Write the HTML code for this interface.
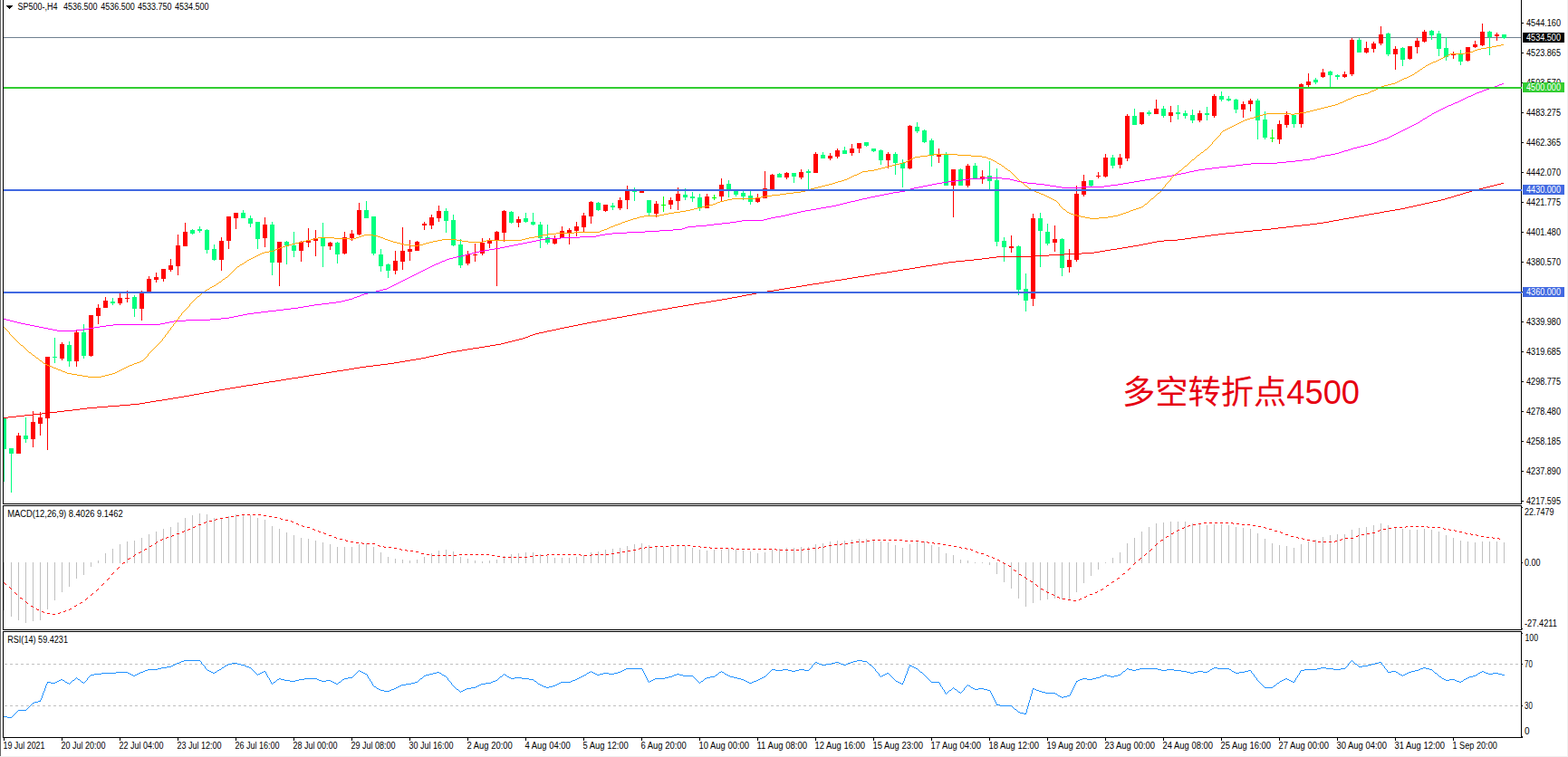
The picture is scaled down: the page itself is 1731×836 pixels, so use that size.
<!DOCTYPE html><html><head><meta charset="utf-8"><title>SP500 H4</title><style>
html,body{margin:0;padding:0;background:#fff;overflow:hidden}
svg{display:block}
text{font-family:"Liberation Sans",sans-serif;font-size:10px;fill:#000}
.c{shape-rendering:crispEdges}
.t{stroke:none}
</style></head><body>
<svg width="1731" height="836" viewBox="0 0 1731 836">
<rect width="1731" height="836" fill="#fff"/>
<g class="c">
<rect x="0" y="0" width="1" height="835" fill="#646464"/>
<rect x="1730" y="0" width="1" height="836" fill="#f0f0f0"/>
<rect x="0" y="835" width="1731" height="1" fill="#f0f0f0"/>
<rect x="4" y="41" width="1675" height="1" fill="#708090"/>
<g fill="#c0c0c0">
<rect x="4" y="621" width="1" height="53"/>
<rect x="12" y="621" width="1" height="60"/>
<rect x="20" y="621" width="1" height="64"/>
<rect x="28" y="621" width="1" height="67"/>
<rect x="36" y="621" width="1" height="65"/>
<rect x="44" y="621" width="1" height="64"/>
<rect x="52" y="621" width="1" height="52"/>
<rect x="60" y="621" width="1" height="42"/>
<rect x="68" y="621" width="1" height="33"/>
<rect x="76" y="621" width="1" height="27"/>
<rect x="84" y="621" width="1" height="18"/>
<rect x="92" y="621" width="1" height="14"/>
<rect x="100" y="621" width="1" height="5"/>
<rect x="108" y="619" width="1" height="3"/>
<rect x="116" y="611" width="1" height="11"/>
<rect x="124" y="606" width="1" height="16"/>
<rect x="132" y="601" width="1" height="21"/>
<rect x="140" y="598" width="1" height="24"/>
<rect x="148" y="597" width="1" height="25"/>
<rect x="156" y="594" width="1" height="28"/>
<rect x="164" y="590" width="1" height="32"/>
<rect x="172" y="587" width="1" height="35"/>
<rect x="180" y="584" width="1" height="38"/>
<rect x="188" y="582" width="1" height="40"/>
<rect x="196" y="577" width="1" height="45"/>
<rect x="204" y="572" width="1" height="50"/>
<rect x="212" y="569" width="1" height="53"/>
<rect x="220" y="567" width="1" height="55"/>
<rect x="228" y="568" width="1" height="54"/>
<rect x="236" y="572" width="1" height="50"/>
<rect x="244" y="572" width="1" height="50"/>
<rect x="252" y="570" width="1" height="52"/>
<rect x="260" y="568" width="1" height="54"/>
<rect x="268" y="568" width="1" height="54"/>
<rect x="276" y="569" width="1" height="53"/>
<rect x="284" y="572" width="1" height="50"/>
<rect x="292" y="574" width="1" height="48"/>
<rect x="300" y="581" width="1" height="41"/>
<rect x="308" y="584" width="1" height="38"/>
<rect x="316" y="588" width="1" height="34"/>
<rect x="324" y="591" width="1" height="31"/>
<rect x="332" y="594" width="1" height="28"/>
<rect x="340" y="595" width="1" height="27"/>
<rect x="348" y="597" width="1" height="25"/>
<rect x="356" y="599" width="1" height="23"/>
<rect x="364" y="601" width="1" height="21"/>
<rect x="372" y="604" width="1" height="18"/>
<rect x="380" y="604" width="1" height="18"/>
<rect x="388" y="604" width="1" height="18"/>
<rect x="396" y="601" width="1" height="21"/>
<rect x="404" y="600" width="1" height="22"/>
<rect x="412" y="604" width="1" height="18"/>
<rect x="420" y="610" width="1" height="12"/>
<rect x="428" y="615" width="1" height="7"/>
<rect x="436" y="617" width="1" height="5"/>
<rect x="444" y="618" width="1" height="4"/>
<rect x="452" y="619" width="1" height="3"/>
<rect x="460" y="618" width="1" height="4"/>
<rect x="468" y="615" width="1" height="7"/>
<rect x="476" y="611" width="1" height="11"/>
<rect x="484" y="608" width="1" height="14"/>
<rect x="492" y="607" width="1" height="15"/>
<rect x="500" y="609" width="1" height="13"/>
<rect x="508" y="615" width="1" height="7"/>
<rect x="516" y="617" width="1" height="5"/>
<rect x="524" y="619" width="1" height="3"/>
<rect x="532" y="620" width="1" height="2"/>
<rect x="540" y="619" width="1" height="3"/>
<rect x="548" y="618" width="1" height="4"/>
<rect x="556" y="614" width="1" height="8"/>
<rect x="564" y="612" width="1" height="10"/>
<rect x="572" y="611" width="1" height="11"/>
<rect x="580" y="610" width="1" height="12"/>
<rect x="588" y="610" width="1" height="12"/>
<rect x="596" y="612" width="1" height="10"/>
<rect x="604" y="614" width="1" height="8"/>
<rect x="612" y="616" width="1" height="6"/>
<rect x="620" y="616" width="1" height="6"/>
<rect x="628" y="616" width="1" height="6"/>
<rect x="636" y="615" width="1" height="7"/>
<rect x="644" y="613" width="1" height="9"/>
<rect x="652" y="610" width="1" height="12"/>
<rect x="660" y="609" width="1" height="13"/>
<rect x="668" y="607" width="1" height="15"/>
<rect x="676" y="606" width="1" height="16"/>
<rect x="684" y="605" width="1" height="17"/>
<rect x="692" y="603" width="1" height="19"/>
<rect x="700" y="601" width="1" height="21"/>
<rect x="708" y="600" width="1" height="22"/>
<rect x="716" y="602" width="1" height="20"/>
<rect x="724" y="603" width="1" height="19"/>
<rect x="732" y="604" width="1" height="18"/>
<rect x="740" y="604" width="1" height="18"/>
<rect x="748" y="603" width="1" height="19"/>
<rect x="756" y="603" width="1" height="19"/>
<rect x="764" y="605" width="1" height="17"/>
<rect x="772" y="607" width="1" height="15"/>
<rect x="780" y="608" width="1" height="14"/>
<rect x="788" y="607" width="1" height="15"/>
<rect x="796" y="607" width="1" height="15"/>
<rect x="804" y="606" width="1" height="16"/>
<rect x="812" y="607" width="1" height="15"/>
<rect x="820" y="608" width="1" height="14"/>
<rect x="828" y="609" width="1" height="13"/>
<rect x="836" y="611" width="1" height="11"/>
<rect x="844" y="610" width="1" height="12"/>
<rect x="852" y="607" width="1" height="15"/>
<rect x="860" y="606" width="1" height="16"/>
<rect x="868" y="605" width="1" height="17"/>
<rect x="876" y="605" width="1" height="17"/>
<rect x="884" y="604" width="1" height="18"/>
<rect x="892" y="604" width="1" height="18"/>
<rect x="900" y="601" width="1" height="21"/>
<rect x="908" y="600" width="1" height="22"/>
<rect x="916" y="598" width="1" height="24"/>
<rect x="924" y="597" width="1" height="25"/>
<rect x="932" y="597" width="1" height="25"/>
<rect x="940" y="596" width="1" height="26"/>
<rect x="948" y="595" width="1" height="27"/>
<rect x="956" y="595" width="1" height="27"/>
<rect x="964" y="596" width="1" height="26"/>
<rect x="972" y="598" width="1" height="24"/>
<rect x="980" y="599" width="1" height="23"/>
<rect x="988" y="602" width="1" height="20"/>
<rect x="996" y="605" width="1" height="17"/>
<rect x="1004" y="601" width="1" height="21"/>
<rect x="1012" y="598" width="1" height="24"/>
<rect x="1020" y="598" width="1" height="24"/>
<rect x="1028" y="602" width="1" height="20"/>
<rect x="1036" y="604" width="1" height="18"/>
<rect x="1044" y="611" width="1" height="11"/>
<rect x="1052" y="613" width="1" height="9"/>
<rect x="1060" y="618" width="1" height="4"/>
<rect x="1068" y="619" width="1" height="3"/>
<rect x="1076" y="621" width="1" height="1"/>
<rect x="1084" y="621" width="1" height="1"/>
<rect x="1092" y="621" width="1" height="3"/>
<rect x="1100" y="621" width="1" height="13"/>
<rect x="1108" y="621" width="1" height="22"/>
<rect x="1116" y="621" width="1" height="29"/>
<rect x="1124" y="621" width="1" height="40"/>
<rect x="1132" y="621" width="1" height="49"/>
<rect x="1140" y="621" width="1" height="45"/>
<rect x="1148" y="621" width="1" height="42"/>
<rect x="1156" y="621" width="1" height="41"/>
<rect x="1164" y="621" width="1" height="40"/>
<rect x="1172" y="621" width="1" height="41"/>
<rect x="1180" y="621" width="1" height="41"/>
<rect x="1188" y="621" width="1" height="33"/>
<rect x="1196" y="621" width="1" height="23"/>
<rect x="1204" y="621" width="1" height="15"/>
<rect x="1212" y="621" width="1" height="8"/>
<rect x="1220" y="621" width="1" height="1"/>
<rect x="1228" y="616" width="1" height="6"/>
<rect x="1236" y="610" width="1" height="12"/>
<rect x="1244" y="600" width="1" height="22"/>
<rect x="1252" y="594" width="1" height="28"/>
<rect x="1260" y="587" width="1" height="35"/>
<rect x="1268" y="582" width="1" height="40"/>
<rect x="1276" y="578" width="1" height="44"/>
<rect x="1284" y="577" width="1" height="45"/>
<rect x="1292" y="576" width="1" height="46"/>
<rect x="1300" y="576" width="1" height="46"/>
<rect x="1308" y="576" width="1" height="46"/>
<rect x="1316" y="578" width="1" height="44"/>
<rect x="1324" y="579" width="1" height="43"/>
<rect x="1332" y="580" width="1" height="42"/>
<rect x="1340" y="579" width="1" height="43"/>
<rect x="1348" y="579" width="1" height="43"/>
<rect x="1356" y="580" width="1" height="42"/>
<rect x="1364" y="582" width="1" height="40"/>
<rect x="1372" y="583" width="1" height="39"/>
<rect x="1380" y="584" width="1" height="38"/>
<rect x="1388" y="589" width="1" height="33"/>
<rect x="1396" y="595" width="1" height="27"/>
<rect x="1404" y="600" width="1" height="22"/>
<rect x="1412" y="602" width="1" height="20"/>
<rect x="1420" y="603" width="1" height="19"/>
<rect x="1428" y="605" width="1" height="17"/>
<rect x="1436" y="601" width="1" height="21"/>
<rect x="1444" y="598" width="1" height="24"/>
<rect x="1452" y="596" width="1" height="26"/>
<rect x="1460" y="593" width="1" height="29"/>
<rect x="1468" y="591" width="1" height="31"/>
<rect x="1476" y="590" width="1" height="32"/>
<rect x="1484" y="590" width="1" height="32"/>
<rect x="1492" y="585" width="1" height="37"/>
<rect x="1500" y="583" width="1" height="39"/>
<rect x="1508" y="582" width="1" height="40"/>
<rect x="1516" y="580" width="1" height="42"/>
<rect x="1524" y="578" width="1" height="44"/>
<rect x="1532" y="580" width="1" height="42"/>
<rect x="1540" y="582" width="1" height="40"/>
<rect x="1548" y="584" width="1" height="38"/>
<rect x="1556" y="585" width="1" height="37"/>
<rect x="1564" y="585" width="1" height="37"/>
<rect x="1572" y="584" width="1" height="38"/>
<rect x="1580" y="585" width="1" height="37"/>
<rect x="1588" y="587" width="1" height="35"/>
<rect x="1596" y="591" width="1" height="31"/>
<rect x="1604" y="594" width="1" height="28"/>
<rect x="1612" y="597" width="1" height="25"/>
<rect x="1620" y="598" width="1" height="24"/>
<rect x="1628" y="599" width="1" height="23"/>
<rect x="1636" y="598" width="1" height="24"/>
<rect x="1644" y="598" width="1" height="24"/>
<rect x="1652" y="598" width="1" height="24"/>
<rect x="1660" y="599" width="1" height="23"/>
</g>
<g stroke="#c0c0c0" stroke-width="1" stroke-dasharray="3 3"><line x1="5" y1="733.5" x2="1679" y2="733.5"/><line x1="5" y1="779.5" x2="1679" y2="779.5"/></g>
<g fill="#ff0000">
<rect x="20" y="478" width="1" height="23"/>
<rect x="18" y="481" width="5" height="20"/>
<rect x="36" y="454" width="1" height="40"/>
<rect x="34" y="466" width="5" height="19"/>
<rect x="44" y="455" width="1" height="26"/>
<rect x="42" y="461" width="5" height="7"/>
<rect x="52" y="394" width="1" height="103"/>
<rect x="50" y="394" width="5" height="68"/>
<rect x="68" y="378" width="1" height="20"/>
<rect x="66" y="380" width="5" height="16"/>
<rect x="84" y="365" width="1" height="40"/>
<rect x="82" y="367" width="5" height="32"/>
<rect x="100" y="348" width="1" height="46"/>
<rect x="98" y="348" width="5" height="45"/>
<rect x="108" y="336" width="1" height="22"/>
<rect x="106" y="340" width="5" height="9"/>
<rect x="116" y="328" width="1" height="12"/>
<rect x="114" y="332" width="5" height="8"/>
<rect x="132" y="324" width="1" height="13"/>
<rect x="130" y="329" width="5" height="6"/>
<rect x="140" y="321" width="1" height="13"/>
<rect x="138" y="329" width="5" height="1"/>
<rect x="156" y="321" width="1" height="33"/>
<rect x="154" y="324" width="5" height="17"/>
<rect x="164" y="305" width="1" height="18"/>
<rect x="162" y="308" width="5" height="15"/>
<rect x="172" y="301" width="1" height="11"/>
<rect x="170" y="306" width="5" height="3"/>
<rect x="180" y="297" width="1" height="14"/>
<rect x="178" y="297" width="5" height="11"/>
<rect x="188" y="286" width="1" height="14"/>
<rect x="186" y="293" width="5" height="5"/>
<rect x="196" y="259" width="1" height="45"/>
<rect x="194" y="271" width="5" height="23"/>
<rect x="204" y="246" width="1" height="26"/>
<rect x="202" y="256" width="5" height="16"/>
<rect x="244" y="262" width="1" height="37"/>
<rect x="242" y="266" width="5" height="21"/>
<rect x="252" y="239" width="1" height="36"/>
<rect x="250" y="239" width="5" height="27"/>
<rect x="260" y="235" width="1" height="18"/>
<rect x="258" y="235" width="5" height="6"/>
<rect x="292" y="240" width="1" height="33"/>
<rect x="290" y="248" width="5" height="15"/>
<rect x="308" y="267" width="1" height="49"/>
<rect x="306" y="267" width="5" height="23"/>
<rect x="332" y="266" width="1" height="23"/>
<rect x="330" y="267" width="5" height="10"/>
<rect x="340" y="252" width="1" height="21"/>
<rect x="338" y="265" width="5" height="3"/>
<rect x="348" y="254" width="1" height="29"/>
<rect x="346" y="263" width="5" height="3"/>
<rect x="364" y="267" width="1" height="9"/>
<rect x="362" y="268" width="5" height="4"/>
<rect x="380" y="256" width="1" height="25"/>
<rect x="378" y="262" width="5" height="18"/>
<rect x="388" y="254" width="1" height="12"/>
<rect x="386" y="258" width="5" height="5"/>
<rect x="396" y="224" width="1" height="36"/>
<rect x="394" y="232" width="5" height="27"/>
<rect x="436" y="277" width="1" height="26"/>
<rect x="434" y="288" width="5" height="11"/>
<rect x="444" y="251" width="1" height="47"/>
<rect x="442" y="277" width="5" height="12"/>
<rect x="452" y="265" width="1" height="23"/>
<rect x="450" y="275" width="5" height="3"/>
<rect x="460" y="266" width="1" height="11"/>
<rect x="458" y="267" width="5" height="10"/>
<rect x="468" y="245" width="1" height="9"/>
<rect x="466" y="247" width="5" height="2"/>
<rect x="476" y="237" width="1" height="16"/>
<rect x="474" y="240" width="5" height="9"/>
<rect x="484" y="227" width="1" height="18"/>
<rect x="482" y="233" width="5" height="8"/>
<rect x="516" y="277" width="1" height="16"/>
<rect x="514" y="281" width="5" height="10"/>
<rect x="524" y="269" width="1" height="20"/>
<rect x="522" y="281" width="5" height="1"/>
<rect x="532" y="263" width="1" height="19"/>
<rect x="530" y="268" width="5" height="12"/>
<rect x="540" y="263" width="1" height="11"/>
<rect x="538" y="265" width="5" height="4"/>
<rect x="548" y="255" width="1" height="61"/>
<rect x="546" y="256" width="5" height="10"/>
<rect x="556" y="232" width="1" height="35"/>
<rect x="554" y="233" width="5" height="24"/>
<rect x="572" y="239" width="1" height="12"/>
<rect x="570" y="242" width="5" height="4"/>
<rect x="612" y="260" width="1" height="10"/>
<rect x="610" y="263" width="5" height="6"/>
<rect x="620" y="250" width="1" height="13"/>
<rect x="618" y="255" width="5" height="8"/>
<rect x="628" y="252" width="1" height="18"/>
<rect x="626" y="254" width="5" height="3"/>
<rect x="636" y="245" width="1" height="16"/>
<rect x="634" y="250" width="5" height="5"/>
<rect x="644" y="235" width="1" height="22"/>
<rect x="642" y="238" width="5" height="13"/>
<rect x="652" y="222" width="1" height="25"/>
<rect x="650" y="223" width="5" height="16"/>
<rect x="668" y="226" width="1" height="8"/>
<rect x="666" y="226" width="5" height="7"/>
<rect x="684" y="218" width="1" height="14"/>
<rect x="682" y="221" width="5" height="9"/>
<rect x="692" y="205" width="1" height="26"/>
<rect x="690" y="211" width="5" height="10"/>
<rect x="708" y="210" width="1" height="3"/>
<rect x="706" y="211" width="5" height="2"/>
<rect x="724" y="222" width="1" height="18"/>
<rect x="722" y="225" width="5" height="11"/>
<rect x="740" y="218" width="1" height="13"/>
<rect x="738" y="221" width="5" height="5"/>
<rect x="748" y="207" width="1" height="25"/>
<rect x="746" y="214" width="5" height="8"/>
<rect x="780" y="214" width="1" height="16"/>
<rect x="778" y="217" width="5" height="13"/>
<rect x="796" y="197" width="1" height="25"/>
<rect x="794" y="204" width="5" height="13"/>
<rect x="836" y="214" width="1" height="10"/>
<rect x="834" y="218" width="5" height="5"/>
<rect x="844" y="189" width="1" height="30"/>
<rect x="842" y="208" width="5" height="11"/>
<rect x="852" y="192" width="1" height="17"/>
<rect x="850" y="193" width="5" height="16"/>
<rect x="868" y="190" width="1" height="8"/>
<rect x="866" y="191" width="5" height="5"/>
<rect x="884" y="187" width="1" height="11"/>
<rect x="882" y="190" width="5" height="6"/>
<rect x="900" y="168" width="1" height="23"/>
<rect x="898" y="170" width="5" height="21"/>
<rect x="916" y="169" width="1" height="8"/>
<rect x="914" y="172" width="5" height="3"/>
<rect x="924" y="164" width="1" height="11"/>
<rect x="922" y="166" width="5" height="7"/>
<rect x="940" y="159" width="1" height="13"/>
<rect x="938" y="164" width="5" height="5"/>
<rect x="948" y="158" width="1" height="11"/>
<rect x="946" y="158" width="5" height="6"/>
<rect x="980" y="168" width="1" height="18"/>
<rect x="978" y="170" width="5" height="7"/>
<rect x="1004" y="138" width="1" height="49"/>
<rect x="1002" y="139" width="5" height="47"/>
<rect x="1036" y="164" width="1" height="16"/>
<rect x="1034" y="170" width="5" height="3"/>
<rect x="1052" y="187" width="1" height="53"/>
<rect x="1050" y="187" width="5" height="18"/>
<rect x="1068" y="181" width="1" height="26"/>
<rect x="1066" y="183" width="5" height="22"/>
<rect x="1084" y="188" width="1" height="15"/>
<rect x="1082" y="195" width="5" height="3"/>
<rect x="1116" y="260" width="1" height="19"/>
<rect x="1114" y="272" width="5" height="2"/>
<rect x="1140" y="236" width="1" height="102"/>
<rect x="1138" y="241" width="5" height="89"/>
<rect x="1164" y="249" width="1" height="29"/>
<rect x="1162" y="264" width="5" height="4"/>
<rect x="1180" y="275" width="1" height="26"/>
<rect x="1178" y="287" width="5" height="8"/>
<rect x="1188" y="205" width="1" height="84"/>
<rect x="1186" y="214" width="5" height="73"/>
<rect x="1196" y="193" width="1" height="24"/>
<rect x="1194" y="200" width="5" height="15"/>
<rect x="1212" y="190" width="1" height="7"/>
<rect x="1210" y="194" width="5" height="1"/>
<rect x="1220" y="170" width="1" height="26"/>
<rect x="1218" y="174" width="5" height="21"/>
<rect x="1236" y="170" width="1" height="16"/>
<rect x="1234" y="174" width="5" height="8"/>
<rect x="1244" y="126" width="1" height="52"/>
<rect x="1242" y="128" width="5" height="47"/>
<rect x="1260" y="124" width="1" height="14"/>
<rect x="1258" y="124" width="5" height="13"/>
<rect x="1276" y="110" width="1" height="16"/>
<rect x="1274" y="120" width="5" height="6"/>
<rect x="1292" y="117" width="1" height="18"/>
<rect x="1290" y="124" width="5" height="4"/>
<rect x="1324" y="122" width="1" height="13"/>
<rect x="1322" y="125" width="5" height="8"/>
<rect x="1340" y="104" width="1" height="26"/>
<rect x="1338" y="106" width="5" height="22"/>
<rect x="1372" y="112" width="1" height="18"/>
<rect x="1370" y="115" width="5" height="6"/>
<rect x="1380" y="109" width="1" height="14"/>
<rect x="1378" y="111" width="5" height="4"/>
<rect x="1412" y="133" width="1" height="26"/>
<rect x="1410" y="137" width="5" height="17"/>
<rect x="1420" y="123" width="1" height="18"/>
<rect x="1418" y="127" width="5" height="11"/>
<rect x="1436" y="92" width="1" height="49"/>
<rect x="1434" y="93" width="5" height="44"/>
<rect x="1444" y="81" width="1" height="15"/>
<rect x="1442" y="90" width="5" height="4"/>
<rect x="1460" y="76" width="1" height="10"/>
<rect x="1458" y="80" width="5" height="5"/>
<rect x="1484" y="79" width="1" height="7"/>
<rect x="1482" y="82" width="5" height="3"/>
<rect x="1492" y="42" width="1" height="42"/>
<rect x="1490" y="44" width="5" height="38"/>
<rect x="1508" y="46" width="1" height="13"/>
<rect x="1506" y="53" width="5" height="5"/>
<rect x="1516" y="46" width="1" height="12"/>
<rect x="1514" y="48" width="5" height="6"/>
<rect x="1524" y="29" width="1" height="21"/>
<rect x="1522" y="38" width="5" height="10"/>
<rect x="1540" y="51" width="1" height="26"/>
<rect x="1538" y="54" width="5" height="6"/>
<rect x="1556" y="51" width="1" height="15"/>
<rect x="1554" y="51" width="5" height="14"/>
<rect x="1564" y="42" width="1" height="17"/>
<rect x="1562" y="45" width="5" height="7"/>
<rect x="1572" y="33" width="1" height="14"/>
<rect x="1570" y="35" width="5" height="11"/>
<rect x="1604" y="57" width="1" height="8"/>
<rect x="1602" y="59" width="5" height="2"/>
<rect x="1620" y="52" width="1" height="16"/>
<rect x="1618" y="52" width="5" height="15"/>
<rect x="1628" y="45" width="1" height="8"/>
<rect x="1626" y="49" width="5" height="3"/>
<rect x="1636" y="26" width="1" height="25"/>
<rect x="1634" y="35" width="5" height="15"/>
<rect x="1652" y="36" width="1" height="9"/>
<rect x="1650" y="38" width="5" height="2"/>
</g>
<g fill="#00ff7f">
<rect x="4" y="461" width="1" height="71"/>
<rect x="4" y="461" width="3" height="35"/>
<rect x="12" y="495" width="1" height="49"/>
<rect x="10" y="495" width="5" height="6"/>
<rect x="28" y="461" width="1" height="28"/>
<rect x="26" y="481" width="5" height="4"/>
<rect x="60" y="373" width="1" height="28"/>
<rect x="58" y="394" width="5" height="1"/>
<rect x="76" y="377" width="1" height="28"/>
<rect x="74" y="381" width="5" height="18"/>
<rect x="92" y="358" width="1" height="38"/>
<rect x="90" y="367" width="5" height="26"/>
<rect x="124" y="329" width="1" height="8"/>
<rect x="122" y="333" width="5" height="2"/>
<rect x="148" y="326" width="1" height="24"/>
<rect x="146" y="328" width="5" height="13"/>
<rect x="212" y="253" width="1" height="6"/>
<rect x="210" y="254" width="5" height="4"/>
<rect x="220" y="250" width="1" height="7"/>
<rect x="218" y="253" width="5" height="2"/>
<rect x="228" y="253" width="1" height="27"/>
<rect x="226" y="254" width="5" height="22"/>
<rect x="236" y="270" width="1" height="18"/>
<rect x="234" y="275" width="5" height="12"/>
<rect x="268" y="232" width="1" height="9"/>
<rect x="266" y="235" width="5" height="6"/>
<rect x="276" y="238" width="1" height="13"/>
<rect x="274" y="241" width="5" height="6"/>
<rect x="284" y="245" width="1" height="30"/>
<rect x="282" y="245" width="5" height="19"/>
<rect x="300" y="245" width="1" height="59"/>
<rect x="298" y="248" width="5" height="42"/>
<rect x="316" y="266" width="1" height="26"/>
<rect x="314" y="267" width="5" height="4"/>
<rect x="324" y="256" width="1" height="28"/>
<rect x="322" y="271" width="5" height="6"/>
<rect x="356" y="246" width="1" height="49"/>
<rect x="354" y="263" width="5" height="9"/>
<rect x="372" y="267" width="1" height="24"/>
<rect x="370" y="268" width="5" height="13"/>
<rect x="404" y="222" width="1" height="19"/>
<rect x="402" y="232" width="5" height="9"/>
<rect x="412" y="239" width="1" height="43"/>
<rect x="410" y="239" width="5" height="41"/>
<rect x="420" y="275" width="1" height="25"/>
<rect x="418" y="281" width="5" height="13"/>
<rect x="428" y="291" width="1" height="16"/>
<rect x="426" y="292" width="5" height="7"/>
<rect x="492" y="230" width="1" height="27"/>
<rect x="490" y="233" width="5" height="11"/>
<rect x="500" y="237" width="1" height="35"/>
<rect x="498" y="243" width="5" height="28"/>
<rect x="508" y="264" width="1" height="32"/>
<rect x="506" y="270" width="5" height="23"/>
<rect x="564" y="233" width="1" height="14"/>
<rect x="562" y="234" width="5" height="12"/>
<rect x="580" y="235" width="1" height="11"/>
<rect x="578" y="241" width="5" height="4"/>
<rect x="588" y="235" width="1" height="14"/>
<rect x="586" y="245" width="5" height="3"/>
<rect x="596" y="245" width="1" height="29"/>
<rect x="594" y="248" width="5" height="15"/>
<rect x="604" y="248" width="1" height="22"/>
<rect x="602" y="262" width="5" height="6"/>
<rect x="660" y="223" width="1" height="10"/>
<rect x="658" y="224" width="5" height="8"/>
<rect x="676" y="224" width="1" height="8"/>
<rect x="674" y="227" width="5" height="2"/>
<rect x="700" y="207" width="1" height="15"/>
<rect x="698" y="210" width="5" height="2"/>
<rect x="716" y="221" width="1" height="17"/>
<rect x="714" y="221" width="5" height="14"/>
<rect x="756" y="208" width="1" height="13"/>
<rect x="754" y="215" width="5" height="3"/>
<rect x="764" y="212" width="1" height="11"/>
<rect x="762" y="217" width="5" height="2"/>
<rect x="772" y="214" width="1" height="19"/>
<rect x="770" y="218" width="5" height="11"/>
<rect x="804" y="199" width="1" height="19"/>
<rect x="802" y="203" width="5" height="6"/>
<rect x="812" y="210" width="1" height="7"/>
<rect x="810" y="211" width="5" height="4"/>
<rect x="820" y="211" width="1" height="10"/>
<rect x="818" y="213" width="5" height="4"/>
<rect x="828" y="211" width="1" height="15"/>
<rect x="826" y="216" width="5" height="7"/>
<rect x="860" y="191" width="1" height="5"/>
<rect x="858" y="192" width="5" height="4"/>
<rect x="876" y="191" width="1" height="11"/>
<rect x="874" y="191" width="5" height="4"/>
<rect x="892" y="187" width="1" height="22"/>
<rect x="890" y="189" width="5" height="2"/>
<rect x="908" y="168" width="1" height="7"/>
<rect x="906" y="171" width="5" height="4"/>
<rect x="932" y="162" width="1" height="8"/>
<rect x="930" y="166" width="5" height="4"/>
<rect x="956" y="157" width="1" height="5"/>
<rect x="954" y="157" width="5" height="4"/>
<rect x="964" y="164" width="1" height="4"/>
<rect x="962" y="164" width="5" height="3"/>
<rect x="972" y="165" width="1" height="17"/>
<rect x="970" y="166" width="5" height="11"/>
<rect x="988" y="168" width="1" height="25"/>
<rect x="986" y="170" width="5" height="10"/>
<rect x="996" y="176" width="1" height="31"/>
<rect x="994" y="180" width="5" height="6"/>
<rect x="1012" y="135" width="1" height="12"/>
<rect x="1010" y="140" width="5" height="5"/>
<rect x="1020" y="143" width="1" height="15"/>
<rect x="1018" y="144" width="5" height="13"/>
<rect x="1028" y="153" width="1" height="31"/>
<rect x="1026" y="155" width="5" height="17"/>
<rect x="1044" y="168" width="1" height="37"/>
<rect x="1042" y="170" width="5" height="35"/>
<rect x="1060" y="186" width="1" height="19"/>
<rect x="1058" y="187" width="5" height="18"/>
<rect x="1076" y="180" width="1" height="17"/>
<rect x="1074" y="183" width="5" height="14"/>
<rect x="1092" y="178" width="1" height="31"/>
<rect x="1090" y="194" width="5" height="6"/>
<rect x="1100" y="186" width="1" height="86"/>
<rect x="1098" y="199" width="5" height="68"/>
<rect x="1108" y="262" width="1" height="27"/>
<rect x="1106" y="266" width="5" height="7"/>
<rect x="1124" y="271" width="1" height="55"/>
<rect x="1122" y="272" width="5" height="48"/>
<rect x="1132" y="302" width="1" height="42"/>
<rect x="1130" y="319" width="5" height="13"/>
<rect x="1148" y="235" width="1" height="60"/>
<rect x="1146" y="241" width="5" height="14"/>
<rect x="1156" y="247" width="1" height="24"/>
<rect x="1154" y="256" width="5" height="13"/>
<rect x="1172" y="263" width="1" height="42"/>
<rect x="1170" y="264" width="5" height="32"/>
<rect x="1204" y="199" width="1" height="7"/>
<rect x="1202" y="199" width="5" height="6"/>
<rect x="1228" y="171" width="1" height="15"/>
<rect x="1226" y="174" width="5" height="9"/>
<rect x="1252" y="120" width="1" height="18"/>
<rect x="1250" y="128" width="5" height="10"/>
<rect x="1268" y="122" width="1" height="6"/>
<rect x="1266" y="124" width="5" height="2"/>
<rect x="1284" y="117" width="1" height="13"/>
<rect x="1282" y="120" width="5" height="8"/>
<rect x="1300" y="116" width="1" height="16"/>
<rect x="1298" y="124" width="5" height="2"/>
<rect x="1308" y="122" width="1" height="9"/>
<rect x="1306" y="125" width="5" height="3"/>
<rect x="1316" y="121" width="1" height="15"/>
<rect x="1314" y="127" width="5" height="6"/>
<rect x="1332" y="118" width="1" height="15"/>
<rect x="1330" y="125" width="5" height="2"/>
<rect x="1348" y="101" width="1" height="11"/>
<rect x="1346" y="106" width="5" height="4"/>
<rect x="1356" y="106" width="1" height="6"/>
<rect x="1354" y="109" width="5" height="2"/>
<rect x="1364" y="109" width="1" height="16"/>
<rect x="1362" y="110" width="5" height="11"/>
<rect x="1388" y="109" width="1" height="45"/>
<rect x="1386" y="111" width="5" height="22"/>
<rect x="1396" y="123" width="1" height="31"/>
<rect x="1394" y="132" width="5" height="20"/>
<rect x="1428" y="126" width="1" height="15"/>
<rect x="1426" y="127" width="5" height="10"/>
<rect x="1452" y="86" width="1" height="7"/>
<rect x="1450" y="88" width="5" height="3"/>
<rect x="1468" y="78" width="1" height="18"/>
<rect x="1466" y="79" width="5" height="4"/>
<rect x="1476" y="82" width="1" height="6"/>
<rect x="1474" y="83" width="5" height="2"/>
<rect x="1500" y="42" width="1" height="16"/>
<rect x="1498" y="44" width="5" height="14"/>
<rect x="1532" y="36" width="1" height="26"/>
<rect x="1530" y="37" width="5" height="23"/>
<rect x="1548" y="52" width="1" height="21"/>
<rect x="1546" y="53" width="5" height="13"/>
<rect x="1580" y="33" width="1" height="11"/>
<rect x="1578" y="34" width="5" height="5"/>
<rect x="1588" y="34" width="1" height="28"/>
<rect x="1586" y="37" width="5" height="17"/>
<rect x="1596" y="41" width="1" height="26"/>
<rect x="1594" y="53" width="5" height="10"/>
<rect x="1612" y="55" width="1" height="17"/>
<rect x="1610" y="60" width="5" height="8"/>
<rect x="1644" y="34" width="1" height="27"/>
<rect x="1642" y="35" width="5" height="6"/>
<rect x="1660" y="38" width="1" height="5"/>
<rect x="1658" y="38" width="5" height="4"/>
</g>
<g fill="#00ff00">
<rect x="732" y="217" width="1" height="17"/>
<rect x="730" y="226" width="5" height="1"/>
<rect x="788" y="215" width="1" height="6"/>
<rect x="786" y="218" width="5" height="1"/>
<rect x="1404" y="143" width="1" height="14"/>
<rect x="1402" y="152" width="5" height="1"/>
</g>
</g>
<path class="c" fill="#ff0000" d="M88 451h8v1h-8zM879 316h6v1h-6zM1065 287h10v1h-10zM119 448h13v1h-13zM310 419h6v1h-6zM985 299h6v1h-6zM916 310h6v1h-6zM1143 282h15v1h-15zM1517 235h6v1h-6zM1257 270h5v1h-5zM516 385h6v1h-6zM910 311h6v1h-6zM1363 256h10v1h-10zM653 355h6v1h-6zM803 329h5v1h-5zM225 433h6v1h-6zM1092 284h8v1h-8zM329 416h6v1h-6zM972 301h7v1h-7zM1322 261h8v1h-8zM1437 248h9v1h-9zM547 380h6v1h-6zM404 404h8v1h-8zM681 350h6v1h-6zM1010 295h6v1h-6zM791 331h6v1h-6zM1084 285h8v1h-8zM1315 262h7v1h-7zM824 325h6v1h-6zM1004 296h6v1h-6zM1534 232h6v1h-6zM573 374h4v1h-4zM1272 267h5v1h-5zM428 401h7v1h-7zM203 437h6v1h-6zM1158 281h17v1h-17zM670 352h5v1h-5zM1337 259h8v1h-8zM1560 227h4v1h-4zM412 403h8v1h-8zM347 413h7v1h-7zM1595 219h3v1h-3zM561 377h4v1h-4zM46 456h9v1h-9zM698 347h5v1h-5zM841 322h6v1h-6zM335 415h6v1h-6zM947 305h7v1h-7zM37 457h9v1h-9zM1582 222h5v1h-5zM1649 204h4v1h-4zM720 343h5v1h-5zM144 446h10v1h-10zM1047 289h8v1h-8zM254 428h6v1h-6zM1277 266h8v1h-8zM1393 253h10v1h-10zM354 412h6v1h-6zM1041 290h6v1h-6zM1194 279h14v1h-14zM1569 225h4v1h-4zM242 430h6v1h-6zM854 320h6v1h-6zM279 424h6v1h-6zM493 389h5v1h-5zM954 304h6v1h-6zM453 397h6v1h-6zM737 340h5v1h-5zM1454 246h7v1h-7zM160 444h6v1h-6zM772 334h7v1h-7zM1446 247h8v1h-8zM372 409h7v1h-7zM366 410h6v1h-6zM1100 283h43v1h-43zM1472 243h6v1h-6zM866 318h6v1h-6zM96 450h11v1h-11zM1645 205h4v1h-4zM748 338h6v1h-6zM1353 257h10v1h-10zM1467 244h5v1h-5zM63 454h8v1h-8zM172 442h7v1h-7zM1500 238h6v1h-6zM891 314h6v1h-6zM1633 208h4v1h-4zM18 459h9v1h-9zM385 407h6v1h-6zM628 360h5v1h-5zM1300 264h8v1h-8zM595 367h5v1h-5zM1489 240h6v1h-6zM1653 203h4v1h-4zM71 453h9v1h-9zM1220 276h6v1h-6zM760 336h6v1h-6zM904 312h6v1h-6zM1506 237h5v1h-5zM1540 231h6v1h-6zM504 387h6v1h-6zM1239 273h6v1h-6zM643 357h5v1h-5zM209 436h5v1h-5zM1605 216h3v1h-3zM132 447h12v1h-12zM316 418h6v1h-6zM1308 263h7v1h-7zM1420 250h8v1h-8zM1226 275h7v1h-7zM997 297h7v1h-7zM529 383h6v1h-6zM304 420h6v1h-6zM991 298h6v1h-6zM692 348h6v1h-6zM553 379h4v1h-4zM1555 228h5v1h-5zM191 439h6v1h-6zM797 330h6v1h-6zM585 370h3v1h-3zM397 405h7v1h-7zM580 372h3v1h-3zM1245 272h6v1h-6zM214 435h6v1h-6zM1075 286h9v1h-9zM248 429h6v1h-6zM541 381h6v1h-6zM1428 249h9v1h-9zM569 375h4v1h-4zM535 382h6v1h-6zM1383 254h10v1h-10zM814 327h5v1h-5zM1175 280h19v1h-19zM341 414h6v1h-6zM557 378h4v1h-4zM1029 292h6v1h-6zM941 306h6v1h-6zM27 458h10v1h-10zM1546 230h5v1h-5zM860 319h6v1h-6zM714 344h6v1h-6zM1035 291h6v1h-6zM360 411h6v1h-6zM1267 268h5v1h-5zM847 321h7v1h-7zM709 345h5v1h-5zM742 339h6v1h-6zM4 461h5v1h-5zM266 426h6v1h-6zM588 369h3v1h-3zM107 449h12v1h-12zM979 300h6v1h-6zM1214 277h6v1h-6zM179 441h6v1h-6zM1641 206h4v1h-4zM55 455h8v1h-8zM470 394h4v1h-4zM885 315h6v1h-6zM960 303h6v1h-6zM489 390h4v1h-4zM1629 209h4v1h-4zM731 341h6v1h-6zM1285 265h15v1h-15zM197 438h6v1h-6zM872 317h7v1h-7zM1478 242h5v1h-5zM1618 212h4v1h-4zM1511 236h6v1h-6zM1251 271h6v1h-6zM291 422h6v1h-6zM785 332h6v1h-6zM1528 233h6v1h-6zM664 353h6v1h-6zM80 452h8v1h-8zM591 368h4v1h-4zM185 440h6v1h-6zM220 434h5v1h-5zM1608 215h4v1h-4zM322 417h7v1h-7zM929 308h6v1h-6zM420 402h8v1h-8zM1564 226h5v1h-5zM237 431h5v1h-5zM1591 220h4v1h-4zM1022 293h7v1h-7zM231 432h6v1h-6zM1330 260h7v1h-7zM835 323h6v1h-6zM441 399h6v1h-6zM966 302h6v1h-6zM459 396h6v1h-6zM1461 245h6v1h-6zM766 335h6v1h-6zM1622 211h3v1h-3zM447 398h6v1h-6zM1055 288h10v1h-10zM510 386h6v1h-6zM1612 214h3v1h-3zM754 337h6v1h-6zM465 395h5v1h-5zM1637 207h4v1h-4zM604 365h5v1h-5zM9 460h9v1h-9zM479 392h5v1h-5zM618 362h5v1h-5zM638 358h5v1h-5zM1602 217h3v1h-3zM808 328h6v1h-6zM565 376h4v1h-4zM1551 229h4v1h-4zM1578 223h4v1h-4zM687 349h5v1h-5zM703 346h6v1h-6zM1373 255h10v1h-10zM260 427h6v1h-6zM1345 258h8v1h-8zM154 445h6v1h-6zM1483 241h6v1h-6zM484 391h5v1h-5zM1403 252h8v1h-8zM297 421h7v1h-7zM435 400h6v1h-6zM1208 278h6v1h-6zM609 364h5v1h-5zM391 406h6v1h-6zM498 388h6v1h-6zM623 361h5v1h-5zM1625 210h4v1h-4zM1615 213h3v1h-3zM614 363h4v1h-4zM897 313h7v1h-7zM600 366h4v1h-4zM779 333h6v1h-6zM1523 234h5v1h-5zM1262 269h5v1h-5zM1016 294h6v1h-6zM830 324h5v1h-5zM935 307h6v1h-6zM675 351h6v1h-6zM922 309h7v1h-7zM725 342h6v1h-6zM379 408h6v1h-6zM474 393h5v1h-5zM285 423h6v1h-6zM1411 251h9v1h-9zM522 384h7v1h-7zM659 354h5v1h-5zM1573 224h5v1h-5zM577 373h3v1h-3zM1233 274h6v1h-6zM1598 218h4v1h-4zM1587 221h4v1h-4zM819 326h5v1h-5zM1657 202h3v1h-3zM272 425h7v1h-7zM633 359h5v1h-5zM166 443h6v1h-6zM648 356h5v1h-5zM1495 239h5v1h-5zM583 371h2v1h-2z"/>
<path class="c" fill="#ff00ff" d="M410 322h5v1h-5zM1084 196h22v1h-22zM1276 196h6v1h-6zM1054 199h8v1h-8zM1119 199h4v1h-4zM1258 199h6v1h-6zM1034 202h6v1h-6zM1134 202h10v1h-10zM1240 202h6v1h-6zM603 263h16v1h-16zM1062 198h8v1h-8zM1115 198h4v1h-4zM1264 198h6v1h-6zM712 255h16v1h-16zM1372 181h9v1h-9zM28 358h5v1h-5zM125 358h52v1h-52zM562 271h5v1h-5zM443 310h2v1h-2zM1630 102h3v1h-3zM7 353h4v1h-4zM205 353h27v1h-27zM1040 201h6v1h-6zM1128 201h6v1h-6zM1246 201h6v1h-6zM1446 175h6v1h-6zM23 357h5v1h-5zM177 357h5v1h-5zM1294 193h5v1h-5zM399 325h3v1h-3zM1046 200h8v1h-8zM1123 200h5v1h-5zM1252 200h6v1h-6zM53 363h5v1h-5zM92 363h6v1h-6zM819 243h24v1h-24zM1381 180h29v1h-29zM1313 189h5v1h-5zM1587 122h2v1h-2zM768 249h12v1h-12zM389 329h2v1h-2zM481 291h3v1h-3zM1583 124h2v1h-2zM1528 153h3v1h-3zM33 359h5v1h-5zM117 359h8v1h-8zM847 241h4v1h-4zM1606 113h3v1h-3zM676 257h16v1h-16zM11 354h4v1h-4zM192 354h13v1h-13zM385 330h4v1h-4zM38 360h5v1h-5zM110 360h7v1h-7zM1304 191h5v1h-5zM1602 115h2v1h-2zM1029 203h5v1h-5zM1144 203h9v1h-9zM1234 203h6v1h-6zM1009 207h5v1h-5zM1172 207h22v1h-22zM63 365h21v1h-21zM1330 186h8v1h-8zM788 247h9v1h-9zM1517 157h3v1h-3zM363 334h8v1h-8zM1014 206h5v1h-5zM1166 206h6v1h-6zM1194 206h25v1h-25zM1506 160h4v1h-4zM658 260h4v1h-4zM889 232h6v1h-6zM1430 177h8v1h-8zM640 261h18v1h-18zM728 254h15v1h-15zM1494 163h4v1h-4zM305 342h8v1h-8zM1420 178h10v1h-10zM875 235h5v1h-5zM377 332h4v1h-4zM1338 185h8v1h-8zM797 246h9v1h-9zM1024 204h5v1h-5zM1153 204h6v1h-6zM1226 204h8v1h-8zM500 284h4v1h-4zM1520 156h2v1h-2zM15 355h4v1h-4zM187 355h5v1h-5zM1576 128h2v1h-2zM976 214h5v1h-5zM525 278h4v1h-4zM862 238h5v1h-5zM433 315h2v1h-2zM1655 93h3v1h-3zM1070 197h14v1h-14zM1106 197h9v1h-9zM1270 197h6v1h-6zM895 231h6v1h-6zM321 340h8v1h-8zM619 262h21v1h-21zM961 217h5v1h-5zM513 281h4v1h-4zM244 351h9v1h-9zM1355 183h9v1h-9zM4 352h3v1h-3zM232 352h12v1h-12zM851 240h5v1h-5zM1644 97h3v1h-3zM540 275h6v1h-6zM806 245h7v1h-7zM471 296h2v1h-2zM912 228h6v1h-6zM986 212h7v1h-7zM952 219h5v1h-5zM1458 172h5v1h-5zM1573 130h2v1h-2zM1484 166h4v1h-4zM263 348h5v1h-5zM971 215h5v1h-5zM939 222h5v1h-5zM329 339h6v1h-6zM753 252h3v1h-3zM491 287h2v1h-2zM1474 169h4v1h-4zM546 274h6v1h-6zM486 289h2v1h-2zM927 225h4v1h-4zM1647 96h3v1h-3zM58 364h5v1h-5zM84 364h8v1h-8zM423 319h4v1h-4zM1611 111h2v1h-2zM1641 98h3v1h-3zM577 268h5v1h-5zM347 336h8v1h-8zM463 300h2v1h-2zM371 333h6v1h-6zM1364 182h8v1h-8zM1288 194h6v1h-6zM459 302h2v1h-2zM1019 205h5v1h-5zM1159 205h7v1h-7zM1219 205h7v1h-7zM1633 101h3v1h-3zM1549 143h2v1h-2zM871 236h4v1h-4zM1514 158h3v1h-3zM1545 145h2v1h-2zM288 344h8v1h-8zM1650 95h3v1h-3zM780 248h8v1h-8zM1619 107h2v1h-2zM856 239h6v1h-6zM1502 161h4v1h-4zM884 233h5v1h-5zM451 306h2v1h-2zM1410 179h10v1h-10zM1595 118h2v1h-2zM1510 159h4v1h-4zM429 317h2v1h-2zM521 279h4v1h-4zM692 256h20v1h-20zM1591 120h2v1h-2zM1537 149h2v1h-2zM453 305h2v1h-2zM582 267h5v1h-5zM313 341h8v1h-8zM509 282h4v1h-4zM449 307h2v1h-2zM534 276h6v1h-6zM419 320h4v1h-4zM948 220h4v1h-4zM1454 173h4v1h-4zM467 298h2v1h-2zM759 250h9v1h-9zM496 285h4v1h-4zM1481 167h3v1h-3zM406 323h4v1h-4zM935 223h4v1h-4zM668 258h8v1h-8zM901 230h5v1h-5zM1438 176h8v1h-8zM743 253h10v1h-10zM1002 209h3v1h-3zM552 273h5v1h-5zM280 345h8v1h-8zM1469 170h5v1h-5zM355 335h8v1h-8zM1613 110h2v1h-2zM268 347h5v1h-5zM597 264h6v1h-6zM441 311h2v1h-2zM488 288h3v1h-3zM397 326h2v1h-2zM1318 188h5v1h-5zM1585 123h2v1h-2zM479 292h2v1h-2zM1525 154h3v1h-3zM475 294h2v1h-2zM1323 187h7v1h-7zM1599 116h3v1h-3zM1565 135h2v1h-2zM662 259h6v1h-6zM813 244h6v1h-6zM906 229h6v1h-6zM1653 94h2v1h-2zM1621 106h3v1h-3zM557 272h5v1h-5zM431 316h2v1h-2zM923 226h4v1h-4zM1557 139h2v1h-2zM1346 184h9v1h-9zM273 346h7v1h-7zM1553 141h2v1h-2zM572 269h5v1h-5zM469 297h2v1h-2zM258 349h5v1h-5zM1571 131h2v1h-2zM335 338h6v1h-6zM48 362h5v1h-5zM98 362h6v1h-6zM587 266h5v1h-5zM999 210h3v1h-3zM1609 112h2v1h-2zM341 337h6v1h-6zM1628 103h2v1h-2zM296 343h9v1h-9zM1299 192h5v1h-5zM1581 125h2v1h-2zM381 331h4v1h-4zM439 312h2v1h-2zM1547 144h2v1h-2zM477 293h2v1h-2zM1498 162h4v1h-4zM880 234h4v1h-4zM981 213h5v1h-5zM1488 165h3v1h-3zM529 277h5v1h-5zM756 251h3v1h-3zM517 280h4v1h-4zM43 361h5v1h-5zM104 361h6v1h-6zM427 318h2v1h-2zM1589 121h2v1h-2zM1535 150h2v1h-2zM415 321h4v1h-4zM465 299h2v1h-2zM402 324h4v1h-4zM592 265h5v1h-5zM1478 168h3v1h-3zM484 290h2v1h-2zM1282 195h6v1h-6zM1463 171h6v1h-6zM391 328h3v1h-3zM1555 140h2v1h-2zM1522 155h3v1h-3zM394 327h3v1h-3zM457 303h2v1h-2zM1578 127h2v1h-2zM867 237h4v1h-4zM1597 117h2v1h-2zM1543 146h2v1h-2zM1563 136h2v1h-2zM918 227h5v1h-5zM843 242h4v1h-4zM944 221h4v1h-4zM931 224h4v1h-4zM957 218h4v1h-4zM447 308h2v1h-2zM1491 164h3v1h-3zM1638 99h3v1h-3zM567 270h5v1h-5zM19 356h4v1h-4zM182 356h5v1h-5zM1005 208h4v1h-4zM1533 151h2v1h-2zM1309 190h4v1h-4zM1559 138h2v1h-2zM993 211h6v1h-6zM1636 100h2v1h-2zM455 304h2v1h-2zM437 313h2v1h-2zM1541 147h2v1h-2zM966 216h5v1h-5zM1615 109h2v1h-2zM1617 108h2v1h-2zM504 283h5v1h-5zM445 309h2v1h-2zM493 286h3v1h-3zM1604 114h2v1h-2zM1624 105h2v1h-2zM435 314h2v1h-2zM1561 137h2v1h-2zM473 295h2v1h-2zM1452 174h2v1h-2zM461 301h2v1h-2zM1568 133h2v1h-2zM1531 152h2v1h-2zM1551 142h2v1h-2zM1658 92h2v1h-2zM1626 104h2v1h-2zM1593 119h2v1h-2zM1539 148h2v1h-2zM253 350h5v1h-5zM1580 126h1v1h-1zM1570 132h1v1h-1zM1567 134h1v1h-1zM1575 129h1v1h-1z"/>
<path class="c" fill="#ffa500" d="M285 281h2v1h-2zM706 239h5v1h-5zM1193 239h5v1h-5zM1223 239h6v1h-6zM79 413h6v1h-6zM120 413h4v1h-4zM1016 172h8v1h-8zM1072 172h12v1h-12zM399 260h3v1h-3zM412 260h5v1h-5zM595 260h4v1h-4zM1652 50h5v1h-5zM338 265h5v1h-5zM428 265h3v1h-3zM483 265h5v1h-5zM504 265h6v1h-6zM537 265h39v1h-39zM738 235h6v1h-6zM1180 235h2v1h-2zM1240 235h3v1h-3zM1559 82h2v1h-2zM925 200h4v1h-4zM319 270h3v1h-3zM446 270h7v1h-7zM462 270h5v1h-5zM347 263h4v1h-4zM369 263h17v1h-17zM390 263h3v1h-3zM423 263h2v1h-2zM580 263h4v1h-4zM762 231h4v1h-4zM1174 231h2v1h-2zM1251 231h3v1h-3zM1004 176h2v1h-2zM1094 176h2v1h-2zM1316 176h2v1h-2zM1647 51h5v1h-5zM351 262h18v1h-18zM393 262h3v1h-3zM420 262h3v1h-3zM584 262h6v1h-6zM803 220h5v1h-5zM1162 220h2v1h-2zM1387 128h3v1h-3zM690 244h3v1h-3zM57 405h2v1h-2zM139 405h2v1h-2zM44 398h2v1h-2zM156 398h2v1h-2zM703 240h3v1h-3zM1198 240h5v1h-5zM1213 240h10v1h-10zM326 268h4v1h-4zM438 268h4v1h-4zM470 268h4v1h-4zM834 218h6v1h-6zM1158 218h2v1h-2zM935 197h2v1h-2zM154 399h2v1h-2zM1398 125h27v1h-27zM1429 125h6v1h-6zM903 206h4v1h-4zM679 248h3v1h-3zM1024 171h6v1h-6zM1057 171h15v1h-15zM1322 171h2v1h-2zM852 215h9v1h-9zM1152 215h2v1h-2zM1030 170h27v1h-27zM634 256h28v1h-28zM989 181h4v1h-4zM1103 181h2v1h-2zM402 259h10v1h-10zM599 259h6v1h-6zM779 227h4v1h-4zM1470 116h4v1h-4zM343 264h4v1h-4zM386 264h4v1h-4zM425 264h3v1h-3zM488 264h16v1h-16zM576 264h4v1h-4zM1362 138h2v1h-2zM396 261h3v1h-3zM417 261h3v1h-3zM590 261h5v1h-5zM733 236h5v1h-5zM1182 236h3v1h-3zM1237 236h3v1h-3zM1358 140h2v1h-2zM766 230h4v1h-4zM1254 230h3v1h-3zM1458 119h4v1h-4zM907 205h4v1h-4zM1132 205h2v1h-2zM40 395h2v1h-2zM97 416h15v1h-15zM1514 100h3v1h-3zM1377 131h3v1h-3zM751 233h6v1h-6zM1246 233h2v1h-2zM861 214h7v1h-7zM1149 214h3v1h-3zM1546 88h2v1h-2zM315 271h4v1h-4zM453 271h9v1h-9zM895 208h4v1h-4zM1136 208h2v1h-2zM67 409h2v1h-2zM131 409h2v1h-2zM1565 78h2v1h-2zM72 411h2v1h-2zM127 411h2v1h-2zM952 189h6v1h-6zM1502 104h4v1h-4zM85 414h6v1h-6zM116 414h4v1h-4zM330 267h4v1h-4zM434 267h4v1h-4zM474 267h4v1h-4zM517 267h16v1h-16zM884 211h5v1h-5zM1142 211h2v1h-2zM1390 127h4v1h-4zM50 402h2v1h-2zM146 402h2v1h-2zM1582 68h3v1h-3zM770 229h5v1h-5zM1257 229h3v1h-3zM667 253h3v1h-3zM876 212h8v1h-8zM1144 212h3v1h-3zM943 193h3v1h-3zM1394 126h4v1h-4zM1425 126h4v1h-4zM614 257h20v1h-20zM1601 59h16v1h-16zM54 404h3v1h-3zM141 404h2v1h-2zM151 400h3v1h-3zM242 311h2v1h-2zM899 207h4v1h-4zM1446 122h4v1h-4zM1350 144h2v1h-2zM993 180h4v1h-4zM1101 180h2v1h-2zM711 238h17v1h-17zM1189 238h4v1h-4zM1229 238h5v1h-5zM322 269h4v1h-4zM442 269h4v1h-4zM467 269h3v1h-3zM787 225h3v1h-3zM1264 225h2v1h-2zM775 228h4v1h-4zM1260 228h2v1h-2zM1532 93h4v1h-4zM699 241h4v1h-4zM1203 241h10v1h-10zM1000 178h2v1h-2zM1098 178h2v1h-2zM985 182h4v1h-4zM59 406h3v1h-3zM137 406h2v1h-2zM1631 54h4v1h-4zM1571 74h2v1h-2zM91 415h6v1h-6zM112 415h4v1h-4zM1010 173h6v1h-6zM1084 173h5v1h-5zM845 216h7v1h-7zM1154 216h2v1h-2zM1617 58h6v1h-6zM892 209h3v1h-3zM1138 209h2v1h-2zM1555 84h2v1h-2zM1002 177h2v1h-2zM1096 177h2v1h-2zM808 219h26v1h-26zM1160 219h2v1h-2zM1271 219h2v1h-2zM265 292h2v1h-2zM792 223h3v1h-3zM1482 112h2v1h-2zM932 198h3v1h-3zM605 258h9v1h-9zM757 232h5v1h-5zM1248 232h3v1h-3zM840 217h5v1h-5zM1156 217h2v1h-2zM939 195h2v1h-2zM728 237h5v1h-5zM1185 237h4v1h-4zM1234 237h3v1h-3zM52 403h2v1h-2zM143 403h3v1h-3zM922 201h3v1h-3zM1127 201h2v1h-2zM868 213h8v1h-8zM1147 213h2v1h-2zM1278 213h2v1h-2zM36 392h2v1h-2zM218 327h2v1h-2zM958 188h7v1h-7zM1113 188h2v1h-2zM1302 188h2v1h-2zM312 272h3v1h-3zM744 234h7v1h-7zM1178 234h2v1h-2zM1243 234h3v1h-3zM1435 124h7v1h-7zM911 204h4v1h-4zM969 186h4v1h-4zM1110 186h2v1h-2zM1330 165h2v1h-2zM289 279h3v1h-3zM1450 121h4v1h-4zM1370 134h2v1h-2zM1366 136h2v1h-2zM950 190h2v1h-2zM946 192h2v1h-2zM223 323h2v1h-2zM941 194h2v1h-2zM1641 52h6v1h-6zM1523 96h2v1h-2zM1491 108h2v1h-2zM292 278h5v1h-5zM977 184h4v1h-4zM1591 64h2v1h-2zM1628 55h3v1h-3zM799 221h4v1h-4zM1164 221h2v1h-2zM232 317h2v1h-2zM1525 95h3v1h-3zM262 294h2v1h-2zM677 249h2v1h-2zM915 203h4v1h-4zM1360 139h2v1h-2zM1578 70h2v1h-2zM1454 120h4v1h-4zM790 224h2v1h-2zM1517 99h2v1h-2zM1544 89h2v1h-2zM1512 101h2v1h-2zM1442 123h4v1h-4zM889 210h3v1h-3zM1140 210h2v1h-2zM74 412h5v1h-5zM124 412h3v1h-3zM48 401h2v1h-2zM148 401h3v1h-3zM937 196h2v1h-2zM664 254h3v1h-3zM965 187h4v1h-4zM334 266h4v1h-4zM431 266h3v1h-3zM478 266h5v1h-5zM510 266h7v1h-7zM533 266h4v1h-4zM1623 57h3v1h-3zM696 242h3v1h-3zM304 275h3v1h-3zM1008 174h2v1h-2zM1089 174h2v1h-2zM1635 53h6v1h-6zM687 245h3v1h-3zM981 183h4v1h-4zM1106 183h2v1h-2zM1308 183h2v1h-2zM783 226h4v1h-4zM283 282h2v1h-2zM1536 92h4v1h-4zM279 284h2v1h-2zM1557 83h2v1h-2zM1553 85h2v1h-2zM1521 97h2v1h-2zM32 389h2v1h-2zM1006 175h2v1h-2zM1091 175h3v1h-3zM795 222h4v1h-4zM929 199h3v1h-3zM1479 113h3v1h-3zM234 316h2v1h-2zM281 283h2v1h-2zM674 250h3v1h-3zM1356 141h2v1h-2zM1580 69h2v1h-2zM1599 60h2v1h-2zM69 410h3v1h-3zM129 410h2v1h-2zM1540 91h2v1h-2zM919 202h3v1h-3zM1528 94h4v1h-4zM273 287h2v1h-2zM297 277h5v1h-5zM287 280h2v1h-2zM1493 107h2v1h-2zM249 306h2v1h-2zM1488 109h3v1h-3zM1626 56h2v1h-2zM1589 65h2v1h-2zM948 191h2v1h-2zM1298 191h2v1h-2zM62 407h2v1h-2zM135 407h2v1h-2zM64 408h3v1h-3zM133 408h2v1h-2zM685 246h2v1h-2zM1354 142h2v1h-2zM997 179h3v1h-3zM1372 133h2v1h-2zM973 185h4v1h-4zM693 243h3v1h-3zM270 289h2v1h-2zM1597 61h2v1h-2zM1562 80h2v1h-2zM1498 105h4v1h-4zM1364 137h2v1h-2zM302 276h2v1h-2zM246 308h2v1h-2zM1585 67h2v1h-2zM1550 86h3v1h-3zM1477 114h2v1h-2zM1384 129h3v1h-3zM1510 102h2v1h-2zM1466 117h4v1h-4zM662 255h2v1h-2zM267 291h2v1h-2zM1374 132h3v1h-3zM239 313h2v1h-2zM1326 168h2v1h-2zM1568 76h2v1h-2zM1519 98h2v1h-2zM23 381h2v1h-2zM229 319h2v1h-2zM672 251h2v1h-2zM307 274h2v1h-2zM1574 72h2v1h-2zM1495 106h3v1h-3zM1595 62h2v1h-2zM236 315h2v1h-2zM1486 110h2v1h-2zM682 247h3v1h-3zM1587 66h2v1h-2zM1548 87h2v1h-2zM1380 130h4v1h-4zM1506 103h4v1h-4zM1474 115h3v1h-3zM1462 118h4v1h-4zM1352 143h2v1h-2zM309 273h3v1h-3zM1576 71h2v1h-2zM1542 90h2v1h-2zM1657 49h3v1h-3zM1484 111h2v1h-2zM275 286h2v1h-2zM277 285h2v1h-2zM227 320h2v1h-2zM670 252h2v1h-2zM1368 135h2v1h-2zM1593 63h2v1h-2zM1321 172h1v1h-1zM207 339h1v1h-1zM1126 200h1v1h-1zM1290 200h1v1h-1zM4 361h1v1h-1zM189 361h1v1h-1zM1270 220h1v1h-1zM1273 218h1v1h-1zM1123 197h1v1h-1zM1292 197h1v2h-1zM46 399h1v1h-1zM199 348h1v1h-1zM1134 206h1v1h-1zM1285 206h1v1h-1zM1276 215h1v1h-1zM1324 170h1v1h-1zM194 354h1v2h-1zM1311 181h1v1h-1zM1170 227h1v1h-1zM1262 227h1v1h-1zM205 341h1v1h-1zM1173 230h1v1h-1zM1286 204h1v2h-1zM160 395h1v1h-1zM217 328h1v1h-1zM12 370h1v1h-1zM182 370h1v2h-1zM1332 164h1v1h-1zM1177 233h1v1h-1zM1277 214h1v1h-1zM1283 208h1v2h-1zM1115 189h1v1h-1zM1301 189h1v1h-1zM1281 211h1v1h-1zM1172 229h1v1h-1zM1280 212h1v1h-1zM225 322h1v1h-1zM1119 193h1v1h-1zM1296 193h1v1h-1zM7 364h1v1h-1zM187 364h1v1h-1zM47 400h1v1h-1zM1135 207h1v1h-1zM1284 207h1v1h-1zM1312 180h1v1h-1zM259 297h1v1h-1zM1169 225h1v2h-1zM1171 228h1v1h-1zM1314 178h1v1h-1zM1105 182h1v1h-1zM1310 182h1v1h-1zM43 397h1v1h-1zM158 397h1v1h-1zM1320 173h1v1h-1zM1275 216h1v1h-1zM1315 177h1v1h-1zM27 384h1v1h-1zM170 384h1v1h-1zM39 394h1v1h-1zM161 394h1v1h-1zM1167 223h1v1h-1zM1267 223h1v1h-1zM1124 198h1v1h-1zM1325 169h1v1h-1zM211 334h1v1h-1zM26 383h1v1h-1zM171 383h1v1h-1zM206 340h1v1h-1zM1176 232h1v1h-1zM1274 217h1v1h-1zM1121 195h1v1h-1zM1294 195h1v1h-1zM245 309h1v1h-1zM1289 201h1v1h-1zM163 391h1v2h-1zM198 349h1v1h-1zM18 376h1v1h-1zM178 376h1v1h-1zM1131 204h1v1h-1zM11 369h1v1h-1zM183 369h1v1h-1zM1305 186h1v1h-1zM1343 152h1v1h-1zM1116 190h1v1h-1zM1300 190h1v1h-1zM251 305h1v1h-1zM1118 192h1v1h-1zM1297 192h1v1h-1zM1338 157h1v2h-1zM1120 194h1v1h-1zM1295 194h1v1h-1zM1108 184h1v1h-1zM1307 184h1v1h-1zM1269 221h1v1h-1zM255 301h1v1h-1zM9 366h1v1h-1zM185 366h1v2h-1zM200 346h1v2h-1zM1130 203h1v1h-1zM1287 203h1v1h-1zM6 363h1v1h-1zM188 362h1v2h-1zM35 391h1v1h-1zM5 362h1v1h-1zM1168 224h1v1h-1zM1266 224h1v1h-1zM1282 210h1v1h-1zM210 335h1v1h-1zM191 358h1v2h-1zM226 321h1v1h-1zM272 288h1v1h-1zM1122 196h1v1h-1zM1293 196h1v1h-1zM13 371h1v1h-1zM1112 187h1v1h-1zM1304 187h1v1h-1zM1328 167h1v1h-1zM252 304h1v1h-1zM1319 174h1v1h-1zM1573 73h1v1h-1zM1347 147h1v2h-1zM1263 226h1v1h-1zM1342 153h1v1h-1zM256 300h1v1h-1zM165 389h1v1h-1zM1318 175h1v1h-1zM1166 222h1v1h-1zM1268 222h1v1h-1zM1125 199h1v1h-1zM1291 199h1v1h-1zM212 333h1v1h-1zM204 342h1v1h-1zM34 390h1v1h-1zM164 390h1v1h-1zM216 329h1v1h-1zM20 378h1v1h-1zM176 378h1v1h-1zM1129 202h1v1h-1zM1288 202h1v1h-1zM1564 79h1v1h-1zM29 386h1v1h-1zM168 386h1v1h-1zM16 374h1v1h-1zM179 374h1v2h-1zM241 312h1v1h-1zM1329 166h1v1h-1zM1344 151h1v1h-1zM1341 154h1v1h-1zM1336 160h1v1h-1zM8 365h1v1h-1zM186 365h1v1h-1zM222 324h1v1h-1zM1570 75h1v1h-1zM1117 191h1v1h-1zM264 293h1v1h-1zM10 367h1v2h-1zM1100 179h1v1h-1zM1313 179h1v1h-1zM197 350h1v2h-1zM192 357h1v1h-1zM1561 81h1v1h-1zM203 343h1v1h-1zM1109 185h1v1h-1zM1306 185h1v1h-1zM15 373h1v1h-1zM180 373h1v1h-1zM215 330h1v1h-1zM21 379h1v1h-1zM175 379h1v1h-1zM1337 159h1v1h-1zM1348 146h1v1h-1zM17 375h1v1h-1zM257 299h1v1h-1zM1340 155h1v1h-1zM248 307h1v1h-1zM1335 161h1v1h-1zM25 382h1v1h-1zM172 382h1v1h-1zM14 372h1v1h-1zM181 372h1v1h-1zM193 356h1v1h-1zM209 336h1v2h-1zM28 385h1v1h-1zM169 385h1v1h-1zM196 352h1v1h-1zM269 290h1v1h-1zM184 368h1v1h-1zM173 381h1v1h-1zM253 303h1v1h-1zM260 296h1v1h-1zM201 345h1v1h-1zM213 332h1v1h-1zM208 338h1v1h-1zM1567 77h1v1h-1zM1345 150h1v1h-1zM19 377h1v1h-1zM177 377h1v1h-1zM30 387h1v1h-1zM167 387h1v1h-1zM202 344h1v1h-1zM38 393h1v1h-1zM162 393h1v1h-1zM42 396h1v1h-1zM159 396h1v1h-1zM214 331h1v1h-1zM22 380h1v1h-1zM174 380h1v1h-1zM190 360h1v1h-1zM221 325h1v1h-1zM1339 156h1v1h-1zM1334 162h1v1h-1zM1346 149h1v1h-1zM254 302h1v1h-1zM231 318h1v1h-1zM1349 145h1v1h-1zM261 295h1v1h-1zM258 298h1v1h-1zM195 353h1v1h-1zM31 388h1v1h-1zM166 388h1v1h-1zM220 326h1v1h-1zM244 310h1v1h-1zM1333 163h1v1h-1zM238 314h1v1h-1z"/>
<path class="c" fill="#ff0000" d="M160 606h2v1h-2zM441 606h2v1h-2zM813 606h3v1h-3zM819 606h3v1h-3zM825 606h3v1h-3zM831 606h3v1h-3zM837 606h3v1h-3zM843 606h3v1h-3zM849 606h3v1h-3zM855 606h2v1h-2zM891 606h3v1h-3zM417 602h2v1h-2zM741 602h3v1h-3zM747 602h3v1h-3zM753 602h3v1h-3zM759 602h3v1h-3zM915 602h3v1h-3zM1047 602h3v1h-3zM136 621h2v1h-2zM1419 590h3v1h-3zM1503 590h3v1h-3zM1624 590h2v1h-2zM477 613h3v1h-3zM483 613h3v1h-3zM489 613h3v1h-3zM495 613h3v1h-3zM501 613h3v1h-3zM543 613h3v1h-3zM591 613h3v1h-3zM597 613h3v1h-3zM645 613h3v1h-3zM651 613h2v1h-2zM1089 613h2v1h-2zM208 584h2v1h-2zM345 584h2v1h-2zM1401 584h3v1h-3zM1527 584h3v1h-3zM1594 584h2v1h-2zM400 600h2v1h-2zM405 600h3v1h-3zM411 600h3v1h-3zM933 600h3v1h-3zM1035 600h3v1h-3zM549 614h3v1h-3zM585 614h3v1h-3zM165 603h2v1h-2zM723 603h3v1h-3zM729 603h3v1h-3zM735 603h3v1h-3zM765 603h3v1h-3zM771 603h2v1h-2zM910 603h2v1h-2zM1053 603h3v1h-3zM1407 586h3v1h-3zM1521 586h2v1h-2zM1606 586h2v1h-2zM231 575h3v1h-3zM1305 583h2v1h-2zM1533 583h3v1h-3zM471 612h3v1h-3zM507 612h3v1h-3zM513 612h3v1h-3zM519 612h3v1h-3zM525 612h3v1h-3zM531 612h3v1h-3zM537 612h3v1h-3zM604 612h2v1h-2zM609 612h3v1h-3zM615 612h3v1h-3zM621 612h3v1h-3zM627 612h3v1h-3zM633 612h3v1h-3zM639 612h2v1h-2zM657 612h3v1h-3zM663 612h3v1h-3zM669 612h3v1h-3zM1288 592h2v1h-2zM1425 592h3v1h-3zM1497 592h2v1h-2zM1635 592h3v1h-3zM387 598h3v1h-3zM945 598h3v1h-3zM951 598h3v1h-3zM1017 598h3v1h-3zM1455 598h3v1h-3zM1461 598h3v1h-3zM1467 598h3v1h-3zM447 607h2v1h-2zM699 607h3v1h-3zM861 607h3v1h-3zM867 607h3v1h-3zM873 607h3v1h-3zM879 607h3v1h-3zM885 607h2v1h-2zM1072 607h2v1h-2zM921 601h3v1h-3zM927 601h2v1h-2zM1041 601h3v1h-3zM153 610h2v1h-2zM681 610h3v1h-3zM177 596h2v1h-2zM963 596h3v1h-3zM969 596h3v1h-3zM975 596h3v1h-3zM981 596h3v1h-3zM987 596h3v1h-3zM993 596h3v1h-3zM1282 596h2v1h-2zM1443 596h3v1h-3zM1479 596h2v1h-2zM393 599h3v1h-3zM939 599h3v1h-3zM1024 599h2v1h-2zM1029 599h2v1h-2zM22 660h2v1h-2zM453 608h3v1h-3zM693 608h3v1h-3zM424 604h2v1h-2zM429 604h3v1h-3zM712 604h2v1h-2zM717 604h3v1h-3zM777 604h3v1h-3zM904 604h2v1h-2zM1059 604h2v1h-2zM1485 594h3v1h-3zM1491 594h3v1h-3zM1648 594h2v1h-2zM1653 594h2v1h-2zM315 574h3v1h-3zM195 589h3v1h-3zM358 589h2v1h-2zM1293 589h2v1h-2zM1509 589h3v1h-3zM1618 589h2v1h-2zM459 609h3v1h-3zM687 609h3v1h-3zM1077 609h2v1h-2zM1161 656h2v1h-2zM1203 656h3v1h-3zM382 597h2v1h-2zM957 597h3v1h-3zM999 597h3v1h-3zM1005 597h3v1h-3zM1011 597h3v1h-3zM1449 597h3v1h-3zM1474 597h2v1h-2zM184 593h2v1h-2zM369 593h2v1h-2zM1431 593h2v1h-2zM1641 593h3v1h-3zM243 572h3v1h-3zM225 577h2v1h-2zM1329 577h3v1h-3zM1335 577h3v1h-3zM1341 577h3v1h-3zM1347 577h3v1h-3zM1353 577h3v1h-3zM1359 577h2v1h-2zM435 605h3v1h-3zM706 605h2v1h-2zM784 605h2v1h-2zM789 605h3v1h-3zM795 605h3v1h-3zM801 605h3v1h-3zM807 605h2v1h-2zM897 605h3v1h-3zM1065 605h2v1h-2zM465 611h3v1h-3zM675 611h3v1h-3zM1083 611h3v1h-3zM1185 663h3v1h-3zM255 570h3v1h-3zM297 570h3v1h-3zM555 615h3v1h-3zM561 615h3v1h-3zM567 615h3v1h-3zM573 615h3v1h-3zM579 615h3v1h-3zM1125 634h2v1h-2zM190 591h2v1h-2zM363 591h3v1h-3zM1630 591h2v1h-2zM201 587h2v1h-2zM352 587h2v1h-2zM1611 587h3v1h-3zM219 579h3v1h-3zM1317 579h3v1h-3zM1371 579h3v1h-3zM1377 579h3v1h-3zM213 582h2v1h-2zM339 582h3v1h-3zM1395 582h2v1h-2zM1539 582h3v1h-3zM1545 582h3v1h-3zM1576 582h2v1h-2zM1581 582h3v1h-3zM1587 582h3v1h-3zM327 578h2v1h-2zM1323 578h3v1h-3zM1365 578h3v1h-3zM46 675h2v1h-2zM70 675h2v1h-2zM1300 585h2v1h-2zM1600 585h2v1h-2zM267 568h3v1h-3zM273 568h3v1h-3zM279 568h3v1h-3zM285 568h3v1h-3zM1234 638h2v1h-2zM1215 651h2v1h-2zM1312 580h2v1h-2zM1383 580h3v1h-3zM334 581h2v1h-2zM1389 581h3v1h-3zM1552 581h2v1h-2zM1557 581h3v1h-3zM1563 581h3v1h-3zM1569 581h3v1h-3zM1173 661h3v1h-3zM1192 661h2v1h-2zM1114 625h2v1h-2zM238 573h2v1h-2zM310 573h2v1h-2zM58 678h3v1h-3zM89 665h2v1h-2zM1108 622h2v1h-2zM1179 662h3v1h-3zM141 617h2v1h-2zM1414 588h2v1h-2zM1515 588h3v1h-3zM375 595h3v1h-3zM1438 595h2v1h-2zM77 672h2v1h-2zM261 569h3v1h-3zM291 569h3v1h-3zM249 571h3v1h-3zM303 571h3v1h-3zM1101 618h2v1h-2zM34 669h2v1h-2zM82 669h2v1h-2zM1120 630h2v1h-2zM1156 654h2v1h-2zM1209 654h2v1h-2zM1222 646h2v1h-2zM1138 642h2v1h-2zM1228 642h2v1h-2zM52 677h3v1h-3zM64 677h2v1h-2zM1167 659h2v1h-2zM1197 659h2v1h-2zM41 673h2v1h-2zM1240 633h2v1h-2zM1096 616h2v1h-2zM1149 650h2v1h-2zM322 576h2v1h-2zM705 606h1v1h-1zM809 606h1v1h-1zM887 606h1v1h-1zM1067 606h1v1h-1zM1071 606h1v1h-1zM1271 606h1v1h-1zM167 602h1v1h-1zM1275 602h1v1h-1zM1107 621h1v1h-1zM1253 621h1v1h-1zM1629 590h1v1h-1zM148 613h1v1h-1zM603 613h1v1h-1zM641 613h1v1h-1zM1263 613h1v1h-1zM1599 584h1v1h-1zM171 600h1v1h-1zM929 600h1v1h-1zM1031 600h1v1h-1zM1277 600h1v1h-1zM147 614h1v1h-1zM1091 614h1v1h-1zM419 603h1v1h-1zM423 603h1v1h-1zM203 586h1v1h-1zM351 586h1v1h-1zM1299 586h1v1h-1zM321 575h1v1h-1zM1397 583h1v1h-1zM1593 583h1v1h-1zM130 627h1v1h-1zM1247 627h1v1h-1zM149 612h1v1h-1zM653 612h1v1h-1zM1264 612h1v1h-1zM189 592h1v1h-1zM173 598h1v1h-1zM1023 598h1v1h-1zM1473 598h1v1h-1zM159 607h1v1h-1zM443 607h1v1h-1zM857 607h1v1h-1zM1270 607h1v1h-1zM1276 601h1v1h-1zM1079 610h1v1h-1zM381 596h1v1h-1zM172 599h1v1h-1zM399 599h1v1h-1zM119 639h1v1h-1zM1133 639h1v1h-1zM1233 639h1v1h-1zM96 660h1v1h-1zM1169 660h1v1h-1zM449 608h1v1h-1zM1269 608h1v1h-1zM773 604h1v1h-1zM783 604h1v1h-1zM909 604h1v1h-1zM183 594h1v1h-1zM371 594h1v1h-1zM1433 594h1v1h-1zM1437 594h1v1h-1zM237 574h1v1h-1zM1623 589h1v1h-1zM155 609h1v1h-1zM129 628h1v1h-1zM1246 628h1v1h-1zM18 656h1v1h-1zM101 656h1v1h-1zM1281 597h1v1h-1zM1287 593h1v1h-1zM1647 593h1v1h-1zM309 572h1v1h-1zM1155 653h1v1h-1zM1211 653h1v1h-1zM711 605h1v1h-1zM903 605h1v1h-1zM1061 605h1v1h-1zM1265 611h1v1h-1zM1095 615h1v1h-1zM123 634h1v1h-1zM1239 634h1v1h-1zM1499 591h1v1h-1zM1413 587h1v1h-1zM6 645h1v1h-1zM113 645h1v1h-1zM1143 645h1v1h-1zM329 579h1v1h-1zM1307 582h1v1h-1zM1551 582h1v1h-1zM1361 578h1v1h-1zM207 585h1v1h-1zM347 585h1v1h-1zM1523 585h1v1h-1zM1605 585h1v1h-1zM120 638h1v1h-1zM1132 638h1v1h-1zM107 651h1v1h-1zM1151 651h1v1h-1zM333 580h1v1h-1zM215 581h1v1h-1zM1311 581h1v1h-1zM1575 581h1v1h-1zM24 661h1v1h-1zM95 661h1v1h-1zM1113 624h1v1h-1zM29 665h1v1h-1zM125 632h1v1h-1zM135 622h1v1h-1zM1252 622h1v1h-1zM94 662h1v1h-1zM1191 662h1v1h-1zM48 676h1v1h-1zM66 676h1v1h-1zM1258 617h1v1h-1zM357 588h1v1h-1zM1295 588h1v1h-1zM1617 588h1v1h-1zM179 595h1v1h-1zM1481 595h1v1h-1zM1655 595h1v1h-1zM40 672h1v1h-1zM1257 618h1v1h-1zM16 654h1v1h-1zM36 670h1v1h-1zM112 646h1v1h-1zM1144 646h1v1h-1zM1199 658h1v1h-1zM10 648h1v1h-1zM1119 629h1v1h-1zM1245 629h1v1h-1zM30 666h1v1h-1zM88 666h1v1h-1zM76 673h1v1h-1zM124 633h1v1h-1zM143 616h1v1h-1zM1259 616h1v1h-1zM100 657h1v1h-1zM1163 657h1v1h-1zM5 644h1v1h-1zM114 644h1v1h-1zM84 668h1v1h-1zM12 650h1v1h-1zM108 650h1v1h-1zM1217 650h1v1h-1zM227 576h1v1h-1zM131 626h1v1h-1zM4 643h1v1h-1zM1227 643h1v1h-1zM1145 647h1v1h-1zM1221 647h1v1h-1zM1103 619h1v1h-1zM72 674h1v1h-1zM11 649h1v1h-1zM118 640h1v1h-1zM17 655h1v1h-1zM102 655h1v1h-1zM106 652h1v1h-1zM28 664h1v1h-1zM1127 635h1v1h-1zM1131 637h1v1h-1zM1251 623h1v1h-1zM1137 641h1v1h-1z"/>
<path class="c" fill="#1e90ff" d="M160 740h3v1h-3zM229 740h2v1h-2zM240 740h2v1h-2zM687 740h2v1h-2zM856 740h8v1h-8zM870 740h4v1h-4zM878 740h4v1h-4zM888 740h5v1h-5zM1250 740h4v1h-4zM1282 740h6v1h-6zM1296 740h8v1h-8zM1378 740h3v1h-3zM1436 740h4v1h-4zM1562 740h4v1h-4zM200 730h3v1h-3zM942 730h4v1h-4zM952 730h5v1h-5zM112 743h16v1h-16zM141 743h2v1h-2zM153 743h2v1h-2zM235 743h2v1h-2zM287 743h2v1h-2zM401 743h2v1h-2zM478 743h4v1h-4zM485 743h2v1h-2zM648 743h2v1h-2zM655 743h2v1h-2zM666 743h6v1h-6zM678 743h4v1h-4zM979 743h2v1h-2zM1314 743h4v1h-4zM1364 743h4v1h-4zM1553 743h2v1h-2zM1584 743h2v1h-2zM1632 743h2v1h-2zM1640 743h3v1h-3zM1648 743h6v1h-6zM65 751h2v1h-2zM69 751h2v1h-2zM80 751h2v1h-2zM314 751h6v1h-6zM326 751h4v1h-4zM352 751h3v1h-3zM360 751h5v1h-5zM547 751h2v1h-2zM632 751h3v1h-3zM719 751h2v1h-2zM821 751h2v1h-2zM835 751h2v1h-2zM1190 751h2v1h-2zM1415 751h2v1h-2zM1423 751h2v1h-2zM1596 751h4v1h-4zM1606 751h2v1h-2zM67 750h2v1h-2zM86 750h2v1h-2zM306 750h2v1h-2zM310 750h4v1h-4zM330 750h6v1h-6zM350 750h2v1h-2zM378 750h2v1h-2zM584 750h5v1h-5zM635 750h2v1h-2zM721 750h2v1h-2zM818 750h3v1h-3zM837 750h2v1h-2zM1192 750h3v1h-3zM1200 750h6v1h-6zM1417 750h2v1h-2zM1421 750h2v1h-2zM1594 750h2v1h-2zM1600 750h6v1h-6zM1616 750h2v1h-2zM104 744h8v1h-8zM143 744h2v1h-2zM151 744h2v1h-2zM285 744h2v1h-2zM403 744h2v1h-2zM474 744h4v1h-4zM657 744h2v1h-2zM662 744h4v1h-4zM672 744h6v1h-6zM747 744h3v1h-3zM800 744h2v1h-2zM977 744h2v1h-2zM1544 744h2v1h-2zM1551 744h2v1h-2zM1643 744h5v1h-5zM1654 744h4v1h-4zM1104 779h13v1h-13zM147 746h2v1h-2zM468 746h2v1h-2zM490 746h2v1h-2zM643 746h2v1h-2zM742 746h2v1h-2zM754 746h11v1h-11zM804 746h2v1h-2zM973 746h2v1h-2zM1216 746h3v1h-3zM1222 746h4v1h-4zM1230 746h4v1h-4zM1626 746h3v1h-3zM52 753h4v1h-4zM61 753h2v1h-2zM72 753h2v1h-2zM90 753h2v1h-2zM302 753h2v1h-2zM367 753h2v1h-2zM374 753h2v1h-2zM458 753h3v1h-3zM542 753h2v1h-2zM619 753h11v1h-11zM825 753h2v1h-2zM830 753h2v1h-2zM991 753h2v1h-2zM1028 753h9v1h-9zM1427 753h2v1h-2zM1611 753h2v1h-2zM437 759h2v1h-2zM520 759h5v1h-5zM603 759h3v1h-3zM1072 759h2v1h-2zM1396 759h9v1h-9zM193 733h2v1h-2zM252 733h4v1h-4zM262 733h4v1h-4zM904 733h3v1h-3zM912 733h6v1h-6zM928 733h3v1h-3zM934 733h2v1h-2zM1496 733h2v1h-2zM1514 733h4v1h-4zM163 739h11v1h-11zM242 739h2v1h-2zM689 739h2v1h-2zM852 739h4v1h-4zM864 739h6v1h-6zM882 739h6v1h-6zM1246 739h4v1h-4zM1254 739h4v1h-4zM1278 739h4v1h-4zM1288 739h8v1h-8zM1336 739h2v1h-2zM1357 739h2v1h-2zM1440 739h14v1h-14zM1472 739h8v1h-8zM1566 739h2v1h-2zM1578 739h3v1h-3zM418 761h2v1h-2zM432 761h3v1h-3zM504 761h2v1h-2zM513 761h2v1h-2zM1054 761h2v1h-2zM1076 761h4v1h-4zM1086 761h4v1h-4zM1142 761h2v1h-2zM56 754h5v1h-5zM74 754h2v1h-2zM369 754h2v1h-2zM454 754h4v1h-4zM536 754h6v1h-6zM617 754h2v1h-2zM827 754h3v1h-3zM993 754h2v1h-2zM1410 754h2v1h-2zM308 749h2v1h-2zM336 749h14v1h-14zM380 749h4v1h-4zM464 749h2v1h-2zM564 749h4v1h-4zM576 749h8v1h-8zM637 749h2v1h-2zM723 749h11v1h-11zM778 749h2v1h-2zM814 749h4v1h-4zM839 749h2v1h-2zM1195 749h5v1h-5zM1206 749h4v1h-4zM1419 749h2v1h-2zM1592 749h2v1h-2zM1618 749h2v1h-2zM128 742h13v1h-13zM155 742h3v1h-3zM233 742h2v1h-2zM237 742h2v1h-2zM289 742h2v1h-2zM399 742h2v1h-2zM482 742h3v1h-3zM650 742h2v1h-2zM653 742h2v1h-2zM682 742h3v1h-3zM794 742h2v1h-2zM797 742h2v1h-2zM1016 742h2v1h-2zM1310 742h4v1h-4zM1318 742h4v1h-4zM1328 742h5v1h-5zM1362 742h2v1h-2zM1368 742h6v1h-6zM1532 742h4v1h-4zM1541 742h2v1h-2zM1555 742h3v1h-3zM1634 742h2v1h-2zM1638 742h2v1h-2zM38 775h4v1h-4zM174 738h4v1h-4zM691 738h18v1h-18zM1011 738h2v1h-2zM1244 738h2v1h-2zM1258 738h20v1h-20zM1338 738h2v1h-2zM1344 738h13v1h-13zM1454 738h4v1h-4zM1464 738h8v1h-8zM1480 738h5v1h-5zM1568 738h3v1h-3zM1574 738h4v1h-4zM424 763h6v1h-6zM509 763h2v1h-2zM1147 763h3v1h-3zM42 774h3v1h-3zM1154 765h11v1h-11zM552 747h2v1h-2zM560 747h2v1h-2zM641 747h2v1h-2zM738 747h4v1h-4zM784 747h5v1h-5zM806 747h4v1h-4zM843 747h2v1h-2zM1214 747h2v1h-2zM1226 747h4v1h-4zM1589 747h2v1h-2zM1622 747h4v1h-4zM178 737h6v1h-6zM245 737h2v1h-2zM275 737h2v1h-2zM1009 737h2v1h-2zM1340 737h4v1h-4zM1458 737h6v1h-6zM1571 737h3v1h-3zM420 762h4v1h-4zM430 762h2v1h-2zM511 762h2v1h-2zM1048 762h2v1h-2zM1090 762h3v1h-3zM1144 762h3v1h-3zM189 735h2v1h-2zM248 735h2v1h-2zM270 735h2v1h-2zM1004 735h3v1h-3zM1504 735h6v1h-6zM443 756h5v1h-5zM529 756h2v1h-2zM596 756h2v1h-2zM613 756h2v1h-2zM184 736h5v1h-5zM272 736h3v1h-3zM1007 736h2v1h-2zM1500 736h4v1h-4zM195 732h3v1h-3zM256 732h6v1h-6zM902 732h2v1h-2zM918 732h4v1h-4zM926 732h2v1h-2zM936 732h3v1h-3zM1518 732h4v1h-4zM63 752h2v1h-2zM320 752h6v1h-6zM355 752h5v1h-5zM365 752h2v1h-2zM544 752h3v1h-3zM590 752h2v1h-2zM630 752h2v1h-2zM717 752h2v1h-2zM774 752h2v1h-2zM823 752h2v1h-2zM832 752h3v1h-3zM989 752h2v1h-2zM1188 752h2v1h-2zM1413 752h2v1h-2zM1425 752h2v1h-2zM1608 752h3v1h-3zM1613 752h2v1h-2zM158 741h2v1h-2zM231 741h2v1h-2zM291 741h2v1h-2zM397 741h2v1h-2zM685 741h2v1h-2zM874 741h4v1h-4zM1240 741h2v1h-2zM1304 741h6v1h-6zM1322 741h6v1h-6zM1333 741h2v1h-2zM1360 741h2v1h-2zM1374 741h4v1h-4zM1536 741h5v1h-5zM1558 741h4v1h-4zM1636 741h2v1h-2zM371 755h2v1h-2zM448 755h6v1h-6zM531 755h5v1h-5zM594 755h2v1h-2zM615 755h2v1h-2zM995 755h2v1h-2zM1058 764h2v1h-2zM1150 764h4v1h-4zM384 748h5v1h-5zM562 748h2v1h-2zM568 748h8v1h-8zM639 748h2v1h-2zM734 748h4v1h-4zM780 748h4v1h-4zM810 748h4v1h-4zM841 748h2v1h-2zM1210 748h4v1h-4zM1620 748h2v1h-2zM416 760h2v1h-2zM435 760h2v1h-2zM515 760h5v1h-5zM1074 760h2v1h-2zM1080 760h6v1h-6zM1140 760h2v1h-2zM100 745h4v1h-4zM145 745h2v1h-2zM149 745h2v1h-2zM470 745h4v1h-4zM488 745h2v1h-2zM557 745h2v1h-2zM645 745h2v1h-2zM659 745h3v1h-3zM744 745h3v1h-3zM750 745h4v1h-4zM790 745h2v1h-2zM802 745h2v1h-2zM975 745h2v1h-2zM1219 745h3v1h-3zM1234 745h3v1h-3zM1546 745h2v1h-2zM1549 745h2v1h-2zM1629 745h2v1h-2zM1658 745h3v1h-3zM1100 778h4v1h-4zM1170 769h2v1h-2zM1174 769h4v1h-4zM1126 787h4v1h-4zM413 758h2v1h-2zM439 758h2v1h-2zM525 758h2v1h-2zM600 758h3v1h-3zM606 758h4v1h-4zM1168 768h2v1h-2zM1178 768h3v1h-3zM1172 770h2v1h-2zM1165 766h2v1h-2zM191 734h2v1h-2zM250 734h2v1h-2zM266 734h4v1h-4zM907 734h5v1h-5zM931 734h3v1h-3zM960 734h2v1h-2zM1510 734h4v1h-4zM203 729h18v1h-18zM946 729h6v1h-6zM1120 783h2v1h-2zM8 792h5v1h-5zM441 757h2v1h-2zM527 757h2v1h-2zM598 757h2v1h-2zM610 757h3v1h-3zM1069 757h2v1h-2zM1406 757h2v1h-2zM198 731h2v1h-2zM900 731h2v1h-2zM922 731h4v1h-4zM939 731h3v1h-3zM1522 731h3v1h-3zM4 791h4v1h-4zM20 784h9v1h-9zM36 776h2v1h-2zM1124 786h2v1h-2zM1130 788h3v1h-3zM279 740h1v1h-1zM396 740h1v1h-1zM709 739h1v2h-1zM851 740h1v1h-1zM966 739h1v2h-1zM1002 738h1v3h-1zM1014 740h1v1h-1zM1242 740h1v1h-1zM1335 740h1v1h-1zM1359 740h1v1h-1zM1531 740h1v2h-1zM1581 740h1v1h-1zM221 730h1v1h-1zM1491 730h1v1h-1zM1493 730h1v1h-1zM282 743h1v1h-1zM293 742h1v2h-1zM393 743h1v1h-1zM711 743h1v2h-1zM793 743h1v1h-1zM799 743h1v1h-1zM848 743h1v1h-1zM969 743h1v1h-1zM1001 741h1v3h-1zM1018 743h1v1h-1zM1238 743h1v1h-1zM1382 743h1v1h-1zM1434 743h1v2h-1zM1543 743h1v1h-1zM88 751h1v1h-1zM95 751h1v1h-1zM298 751h1v2h-1zM305 751h1v1h-1zM377 751h1v1h-1zM408 750h1v2h-1zM462 751h1v1h-1zM495 751h1v1h-1zM589 751h1v1h-1zM715 751h1v2h-1zM769 751h1v1h-1zM776 751h1v1h-1zM988 751h1v1h-1zM998 749h1v3h-1zM1026 751h1v1h-1zM1388 751h1v1h-1zM1429 751h1v2h-1zM1615 751h1v1h-1zM82 750h1v1h-1zM96 749h1v2h-1zM297 749h1v2h-1zM463 750h1v1h-1zM494 749h1v2h-1zM549 750h1v1h-1zM714 749h1v2h-1zM768 750h1v1h-1zM777 750h1v1h-1zM987 750h1v1h-1zM1025 750h1v1h-1zM1387 749h1v2h-1zM1430 749h1v2h-1zM283 744h1v1h-1zM294 744h1v2h-1zM392 744h1v1h-1zM487 744h1v1h-1zM556 744h1v1h-1zM647 744h1v1h-1zM792 744h1v1h-1zM847 744h1v1h-1zM970 744h1v2h-1zM981 744h1v1h-1zM1000 744h1v2h-1zM1019 744h1v1h-1zM1237 744h1v1h-1zM1383 744h1v1h-1zM1586 744h1v1h-1zM1631 744h1v1h-1zM33 779h1v1h-1zM1135 776h1v4h-1zM99 746h1v1h-1zM295 746h1v2h-1zM390 746h1v1h-1zM405 745h1v2h-1zM554 746h1v1h-1zM559 746h1v1h-1zM712 745h1v2h-1zM789 746h1v1h-1zM845 746h1v1h-1zM971 746h1v1h-1zM983 746h1v1h-1zM999 746h1v3h-1zM1021 746h1v1h-1zM1384 745h1v2h-1zM1432 746h1v2h-1zM1548 746h1v1h-1zM1588 746h1v1h-1zM78 753h1v1h-1zM93 753h1v1h-1zM299 753h1v2h-1zM410 753h1v2h-1zM497 753h1v1h-1zM592 753h1v1h-1zM716 753h1v1h-1zM771 753h1v1h-1zM773 753h1v1h-1zM997 752h1v2h-1zM1188 753h1v1h-1zM1390 753h1v1h-1zM1412 753h1v1h-1zM50 757h1v3h-1zM415 759h1v1h-1zM502 759h1v1h-1zM1040 759h1v2h-1zM1052 759h1v1h-1zM1065 759h1v1h-1zM1185 758h1v2h-1zM223 733h1v1h-1zM898 733h1v1h-1zM959 733h1v1h-1zM1488 733h1v2h-1zM1525 732h1v2h-1zM228 739h1v1h-1zM278 739h1v1h-1zM893 739h1v1h-1zM1013 739h1v1h-1zM1243 739h1v1h-1zM1530 739h1v1h-1zM49 760h1v3h-1zM1041 761h1v1h-1zM1050 761h1v1h-1zM1064 760h1v2h-1zM1140 761h1v1h-1zM1184 760h1v2h-1zM52 754h1v1h-1zM77 754h1v1h-1zM92 754h1v1h-1zM301 754h1v1h-1zM373 754h1v1h-1zM498 754h1v2h-1zM593 754h1v1h-1zM772 754h1v1h-1zM996 754h1v1h-1zM1037 754h1v2h-1zM1187 754h1v2h-1zM1391 754h1v1h-1zM83 749h1v1h-1zM85 749h1v1h-1zM407 749h1v1h-1zM550 749h1v1h-1zM767 749h1v1h-1zM986 749h1v1h-1zM1024 749h1v1h-1zM281 742h1v1h-1zM394 742h1v1h-1zM710 741h1v2h-1zM849 742h1v1h-1zM968 742h1v1h-1zM1239 742h1v1h-1zM1381 741h1v2h-1zM1435 741h1v2h-1zM1583 742h1v1h-1zM1099 775h1v2h-1zM1136 773h1v3h-1zM227 738h1v1h-1zM244 738h1v1h-1zM277 738h1v1h-1zM894 738h1v1h-1zM965 738h1v1h-1zM1529 738h1v1h-1zM48 763h1v2h-1zM507 763h1v1h-1zM1042 762h1v2h-1zM1047 763h1v1h-1zM1057 763h1v1h-1zM1062 763h1v1h-1zM1093 763h1v2h-1zM1139 762h1v4h-1zM1183 762h1v2h-1zM1098 773h1v2h-1zM47 765h1v3h-1zM1043 764h1v2h-1zM1045 765h1v1h-1zM1060 765h1v1h-1zM1094 765h1v2h-1zM1182 764h1v2h-1zM98 747h1v1h-1zM389 747h1v1h-1zM406 747h1v2h-1zM467 747h1v1h-1zM492 747h1v1h-1zM713 747h1v2h-1zM765 747h1v1h-1zM972 747h1v1h-1zM984 747h1v1h-1zM1022 747h1v1h-1zM1385 747h1v1h-1zM226 736h1v2h-1zM895 737h1v1h-1zM964 737h1v1h-1zM1003 736h1v2h-1zM1485 737h1v1h-1zM1528 736h1v2h-1zM506 762h1v1h-1zM1056 762h1v1h-1zM1063 762h1v1h-1zM225 735h1v1h-1zM896 735h1v2h-1zM962 735h1v1h-1zM1487 735h1v1h-1zM1499 735h1v1h-1zM1527 735h1v1h-1zM51 755h1v2h-1zM411 755h1v2h-1zM499 756h1v1h-1zM1038 756h1v2h-1zM1068 756h1v1h-1zM1186 756h1v2h-1zM1393 756h1v1h-1zM1408 756h1v1h-1zM247 736h1v1h-1zM963 736h1v1h-1zM1486 736h1v1h-1zM222 731h1v2h-1zM899 732h1v1h-1zM958 732h1v1h-1zM1489 732h1v1h-1zM1495 732h1v1h-1zM44 773h1v1h-1zM71 752h1v1h-1zM79 752h1v1h-1zM89 752h1v1h-1zM94 752h1v1h-1zM304 752h1v1h-1zM376 752h1v1h-1zM409 752h1v1h-1zM461 752h1v1h-1zM496 752h1v1h-1zM770 752h1v1h-1zM1027 752h1v1h-1zM1389 752h1v1h-1zM239 741h1v1h-1zM280 741h1v1h-1zM395 741h1v1h-1zM652 741h1v1h-1zM796 741h1v1h-1zM850 741h1v1h-1zM967 741h1v1h-1zM1015 741h1v1h-1zM1582 741h1v1h-1zM76 755h1v1h-1zM300 755h1v1h-1zM1392 755h1v1h-1zM1409 755h1v1h-1zM508 764h1v1h-1zM1046 764h1v1h-1zM1061 764h1v1h-1zM84 748h1v1h-1zM97 748h1v1h-1zM296 748h1v1h-1zM466 748h1v1h-1zM493 748h1v1h-1zM551 748h1v1h-1zM766 748h1v1h-1zM985 748h1v1h-1zM1023 748h1v1h-1zM1386 748h1v1h-1zM1431 748h1v1h-1zM1591 748h1v1h-1zM503 760h1v1h-1zM1051 760h1v1h-1zM1053 760h1v1h-1zM19 785h1v1h-1zM1123 785h1v1h-1zM1133 783h1v4h-1zM284 745h1v1h-1zM391 745h1v1h-1zM555 745h1v1h-1zM846 745h1v1h-1zM982 745h1v1h-1zM1020 745h1v1h-1zM1433 745h1v1h-1zM1587 745h1v1h-1zM34 778h1v1h-1zM46 768h1v3h-1zM1096 769h1v2h-1zM1137 769h1v4h-1zM17 787h1v1h-1zM1132 787h1v1h-1zM501 758h1v1h-1zM1039 758h1v1h-1zM1066 758h1v1h-1zM1071 758h1v1h-1zM1395 758h1v1h-1zM1405 758h1v1h-1zM30 782h1v1h-1zM1119 782h1v1h-1zM1134 780h1v3h-1zM1095 767h1v2h-1zM1138 766h1v3h-1zM45 771h1v2h-1zM1097 771h1v2h-1zM1044 766h1v1h-1zM1181 766h1v2h-1zM224 734h1v1h-1zM897 734h1v1h-1zM1004 734h1v1h-1zM1498 734h1v1h-1zM1526 734h1v1h-1zM1492 729h1v1h-1zM29 783h1v1h-1zM1167 767h1v1h-1zM412 757h1v1h-1zM500 757h1v1h-1zM1067 757h1v1h-1zM1394 757h1v1h-1zM957 731h1v1h-1zM1490 731h1v1h-1zM1494 731h1v1h-1zM13 791h1v1h-1zM1122 784h1v1h-1zM14 790h1v1h-1zM15 789h1v1h-1zM35 777h1v1h-1zM1100 777h1v1h-1zM18 786h1v1h-1zM31 781h1v1h-1zM1118 781h1v1h-1zM16 788h1v1h-1zM32 780h1v1h-1zM1117 780h1v1h-1z"/>
<g class="c">
<g fill="#000">
<rect x="3" y="0" width="1" height="557"/>
<rect x="1679" y="0" width="1" height="557"/>
<rect x="3" y="558" width="1" height="138"/>
<rect x="1679" y="558" width="1" height="138"/>
<rect x="3" y="697" width="1" height="118"/>
<rect x="1679" y="697" width="1" height="118"/>
<rect x="3" y="556" width="1677" height="1"/>
<rect x="3" y="558" width="1677" height="1"/>
<rect x="3" y="695" width="1677" height="1"/>
<rect x="3" y="697" width="1677" height="1"/>
<rect x="3" y="814" width="1678" height="1"/>
<rect x="1680" y="25" width="2" height="1"/>
<rect x="1680" y="58" width="2" height="1"/>
<rect x="1680" y="91" width="2" height="1"/>
<rect x="1680" y="124" width="2" height="1"/>
<rect x="1680" y="157" width="2" height="1"/>
<rect x="1680" y="190" width="2" height="1"/>
<rect x="1680" y="223" width="2" height="1"/>
<rect x="1680" y="256" width="2" height="1"/>
<rect x="1680" y="289" width="2" height="1"/>
<rect x="1680" y="322" width="2" height="1"/>
<rect x="1680" y="355" width="2" height="1"/>
<rect x="1680" y="388" width="2" height="1"/>
<rect x="1680" y="421" width="2" height="1"/>
<rect x="1680" y="454" width="2" height="1"/>
<rect x="1680" y="487" width="2" height="1"/>
<rect x="1680" y="520" width="2" height="1"/>
<rect x="1680" y="553" width="2" height="1"/>
<rect x="1680" y="560" width="1" height="1"/>
<rect x="1680" y="621" width="1" height="1"/>
<rect x="1680" y="694" width="1" height="1"/>
<rect x="1680" y="699" width="1" height="1"/>
<rect x="1680" y="733" width="1" height="1"/>
<rect x="1680" y="779" width="1" height="1"/>
<rect x="1680" y="813" width="1" height="1"/>
<rect x="4" y="815" width="1" height="3"/>
<rect x="68" y="815" width="1" height="3"/>
<rect x="132" y="815" width="1" height="3"/>
<rect x="196" y="815" width="1" height="3"/>
<rect x="260" y="815" width="1" height="3"/>
<rect x="324" y="815" width="1" height="3"/>
<rect x="388" y="815" width="1" height="3"/>
<rect x="452" y="815" width="1" height="3"/>
<rect x="516" y="815" width="1" height="3"/>
<rect x="580" y="815" width="1" height="3"/>
<rect x="644" y="815" width="1" height="3"/>
<rect x="708" y="815" width="1" height="3"/>
<rect x="772" y="815" width="1" height="3"/>
<rect x="836" y="815" width="1" height="3"/>
<rect x="900" y="815" width="1" height="3"/>
<rect x="964" y="815" width="1" height="3"/>
<rect x="1028" y="815" width="1" height="3"/>
<rect x="1092" y="815" width="1" height="3"/>
<rect x="1156" y="815" width="1" height="3"/>
<rect x="1220" y="815" width="1" height="3"/>
<rect x="1284" y="815" width="1" height="3"/>
<rect x="1348" y="815" width="1" height="3"/>
<rect x="1412" y="815" width="1" height="3"/>
<rect x="1476" y="815" width="1" height="3"/>
<rect x="1540" y="815" width="1" height="3"/>
<rect x="1604" y="815" width="1" height="3"/>
<rect x="7" y="6" width="7" height="1"/>
<rect x="8" y="7" width="5" height="1"/>
<rect x="9" y="8" width="3" height="1"/>
<rect x="10" y="9" width="1" height="1"/>
</g>
<rect x="4" y="96" width="1676" height="2" fill="#32cd32"/>
<rect x="4" y="209" width="1676" height="2" fill="#4169e1"/>
<rect x="4" y="322" width="1676" height="2" fill="#4169e1"/>
<rect x="1681" y="91" width="46" height="11" fill="#32cd32"/>
<rect x="1681" y="204" width="46" height="11" fill="#4169e1"/>
<rect x="1681" y="317" width="46" height="11" fill="#4169e1"/>
</g>
<text class="t" x="19.5" y="11" textLength="44" lengthAdjust="spacingAndGlyphs">SP500-,H4</text>
<text class="t" x="70" y="11" textLength="37.5" lengthAdjust="spacingAndGlyphs">4536.500</text>
<text class="t" x="111.2" y="11" textLength="37.5" lengthAdjust="spacingAndGlyphs">4536.500</text>
<text class="t" x="152" y="11" textLength="37.5" lengthAdjust="spacingAndGlyphs">4533.750</text>
<text class="t" x="193" y="11" textLength="37.5" lengthAdjust="spacingAndGlyphs">4534.500</text>
<text class="t" x="8.2" y="571" textLength="127.5" lengthAdjust="spacingAndGlyphs">MACD(12,26,9) 8.4026 9.1462</text>
<text class="t" x="8.2" y="710" textLength="66.8" lengthAdjust="spacingAndGlyphs">RSI(14) 59.4231</text>
<text class="t" x="1685" y="29" textLength="38" lengthAdjust="spacingAndGlyphs">4544.160</text>
<text class="t" x="1685" y="62" textLength="38" lengthAdjust="spacingAndGlyphs">4523.865</text>
<text class="t" x="1685" y="95" textLength="38" lengthAdjust="spacingAndGlyphs">4503.570</text>
<text class="t" x="1685" y="128" textLength="38" lengthAdjust="spacingAndGlyphs">4483.275</text>
<text class="t" x="1685" y="161" textLength="38" lengthAdjust="spacingAndGlyphs">4462.365</text>
<text class="t" x="1685" y="194" textLength="38" lengthAdjust="spacingAndGlyphs">4442.070</text>
<text class="t" x="1685" y="227" textLength="38" lengthAdjust="spacingAndGlyphs">4421.775</text>
<text class="t" x="1685" y="260" textLength="38" lengthAdjust="spacingAndGlyphs">4401.480</text>
<text class="t" x="1685" y="293" textLength="38" lengthAdjust="spacingAndGlyphs">4380.570</text>
<text class="t" x="1685" y="359" textLength="38" lengthAdjust="spacingAndGlyphs">4339.980</text>
<text class="t" x="1685" y="392" textLength="38" lengthAdjust="spacingAndGlyphs">4319.685</text>
<text class="t" x="1685" y="425" textLength="38" lengthAdjust="spacingAndGlyphs">4298.775</text>
<text class="t" x="1685" y="458" textLength="38" lengthAdjust="spacingAndGlyphs">4278.480</text>
<text class="t" x="1685" y="491" textLength="38" lengthAdjust="spacingAndGlyphs">4258.185</text>
<text class="t" x="1685" y="524" textLength="38" lengthAdjust="spacingAndGlyphs">4237.890</text>
<text class="t" x="1685" y="557" textLength="38" lengthAdjust="spacingAndGlyphs">4217.595</text>
<rect class="c" x="1681" y="91" width="46" height="11" fill="#32cd32"/>
<rect class="c" x="1681" y="36" width="46" height="11" fill="#000"/>
<text class="t" x="1685" y="45" textLength="38" lengthAdjust="spacingAndGlyphs" style="fill:#fff">4534.500</text>
<text class="t" x="1685" y="100" textLength="38" lengthAdjust="spacingAndGlyphs" style="fill:#fff">4500.000</text>
<text class="t" x="1685" y="213" textLength="38" lengthAdjust="spacingAndGlyphs" style="fill:#fff">4430.000</text>
<text class="t" x="1685" y="326" textLength="38" lengthAdjust="spacingAndGlyphs" style="fill:#fff">4360.000</text>
<text class="t" x="1683" y="569" textLength="32.4" lengthAdjust="spacingAndGlyphs">22.7479</text>
<text class="t" x="1683" y="625" textLength="17.5" lengthAdjust="spacingAndGlyphs">0.00</text>
<text class="t" x="1683" y="692" textLength="36" lengthAdjust="spacingAndGlyphs">-27.4211</text>
<text class="t" x="1683.5" y="708" textLength="14.5" lengthAdjust="spacingAndGlyphs">100</text>
<text class="t" x="1683" y="737" textLength="8.8" lengthAdjust="spacingAndGlyphs">70</text>
<text class="t" x="1683" y="783" textLength="8.8" lengthAdjust="spacingAndGlyphs">30</text>
<text class="t" x="1683" y="811">0</text>
<text class="t" x="3.5" y="827" textLength="46" lengthAdjust="spacingAndGlyphs">19 Jul 2021</text>
<text class="t" x="67.5" y="827" textLength="49" lengthAdjust="spacingAndGlyphs">20 Jul 20:00</text>
<text class="t" x="131.5" y="827" textLength="49" lengthAdjust="spacingAndGlyphs">22 Jul 04:00</text>
<text class="t" x="195.5" y="827" textLength="49" lengthAdjust="spacingAndGlyphs">23 Jul 12:00</text>
<text class="t" x="259.5" y="827" textLength="49" lengthAdjust="spacingAndGlyphs">26 Jul 16:00</text>
<text class="t" x="323.5" y="827" textLength="49" lengthAdjust="spacingAndGlyphs">28 Jul 00:00</text>
<text class="t" x="387.5" y="827" textLength="49" lengthAdjust="spacingAndGlyphs">29 Jul 08:00</text>
<text class="t" x="451.5" y="827" textLength="49" lengthAdjust="spacingAndGlyphs">30 Jul 16:00</text>
<text class="t" x="515.5" y="827" textLength="50.25" lengthAdjust="spacingAndGlyphs">2 Aug 20:00</text>
<text class="t" x="579.5" y="827" textLength="50.25" lengthAdjust="spacingAndGlyphs">4 Aug 04:00</text>
<text class="t" x="643.5" y="827" textLength="50.25" lengthAdjust="spacingAndGlyphs">5 Aug 12:00</text>
<text class="t" x="707.5" y="827" textLength="50.25" lengthAdjust="spacingAndGlyphs">6 Aug 20:00</text>
<text class="t" x="771.5" y="827" textLength="55.5" lengthAdjust="spacingAndGlyphs">10 Aug 00:00</text>
<text class="t" x="835.5" y="827" textLength="55.5" lengthAdjust="spacingAndGlyphs">11 Aug 08:00</text>
<text class="t" x="899.5" y="827" textLength="55.5" lengthAdjust="spacingAndGlyphs">12 Aug 16:00</text>
<text class="t" x="963.5" y="827" textLength="55.5" lengthAdjust="spacingAndGlyphs">15 Aug 23:00</text>
<text class="t" x="1027.5" y="827" textLength="55.5" lengthAdjust="spacingAndGlyphs">17 Aug 04:00</text>
<text class="t" x="1091.5" y="827" textLength="55.5" lengthAdjust="spacingAndGlyphs">18 Aug 12:00</text>
<text class="t" x="1155.5" y="827" textLength="55.5" lengthAdjust="spacingAndGlyphs">19 Aug 20:00</text>
<text class="t" x="1219.5" y="827" textLength="55.5" lengthAdjust="spacingAndGlyphs">23 Aug 00:00</text>
<text class="t" x="1283.5" y="827" textLength="55.5" lengthAdjust="spacingAndGlyphs">24 Aug 08:00</text>
<text class="t" x="1347.5" y="827" textLength="55.5" lengthAdjust="spacingAndGlyphs">25 Aug 16:00</text>
<text class="t" x="1411.5" y="827" textLength="55.5" lengthAdjust="spacingAndGlyphs">27 Aug 00:00</text>
<text class="t" x="1475.5" y="827" textLength="55.5" lengthAdjust="spacingAndGlyphs">30 Aug 04:00</text>
<text class="t" x="1539.5" y="827" textLength="55.5" lengthAdjust="spacingAndGlyphs">31 Aug 12:00</text>
<text class="t" x="1603.5" y="827" textLength="49.3" lengthAdjust="spacingAndGlyphs">1 Sep 20:00</text>
<g fill="#e60012">
<text class="t" x="1239" y="446" style="font-size:36px;fill:#e60012;font-family:'Liberation Sans','Noto Sans CJK SC',sans-serif" textLength="262" lengthAdjust="spacingAndGlyphs">多空转折点4500</text>
</g>
</svg></body></html>
